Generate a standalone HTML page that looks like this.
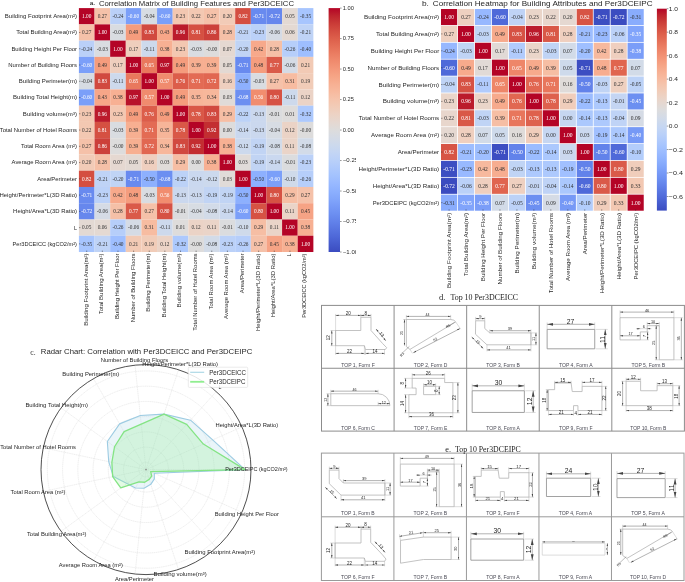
<!DOCTYPE html>
<html><head><meta charset="utf-8"><style>
html,body{margin:0;padding:0;background:#fff;width:685px;height:582px;overflow:hidden}
svg{display:block;will-change:transform;filter:blur(0.3px)}
</style></head><body>
<svg width="685" height="582" viewBox="0 0 685 582" font-family="Liberation Sans, sans-serif">
<rect width="685" height="582" fill="#fff"/>
<rect x="78.90" y="8.10" width="15.65" height="16.28" fill="#b40426"/>
<rect x="94.53" y="8.10" width="15.65" height="16.28" fill="#f5c1a9"/>
<rect x="110.16" y="8.10" width="15.65" height="16.28" fill="#bad0f8"/>
<rect x="125.79" y="8.10" width="15.65" height="16.28" fill="#7b9ff9"/>
<rect x="141.42" y="8.10" width="15.65" height="16.28" fill="#d7dce3"/>
<rect x="157.05" y="8.10" width="15.65" height="16.28" fill="#7b9ff9"/>
<rect x="172.68" y="8.10" width="15.65" height="16.28" fill="#f3c7b1"/>
<rect x="188.31" y="8.10" width="15.65" height="16.28" fill="#f3c8b2"/>
<rect x="203.94" y="8.10" width="15.65" height="16.28" fill="#f5c1a9"/>
<rect x="219.57" y="8.10" width="15.65" height="16.28" fill="#f2cbb7"/>
<rect x="235.20" y="8.10" width="15.65" height="16.28" fill="#d44e41"/>
<rect x="250.83" y="8.10" width="15.65" height="16.28" fill="#688aef"/>
<rect x="266.46" y="8.10" width="15.65" height="16.28" fill="#6687ed"/>
<rect x="282.09" y="8.10" width="15.65" height="16.28" fill="#e3d9d3"/>
<rect x="297.72" y="8.10" width="15.65" height="16.28" fill="#a7c5fe"/>
<rect x="78.90" y="24.36" width="15.65" height="16.28" fill="#f5c1a9"/>
<rect x="94.53" y="24.36" width="15.65" height="16.28" fill="#b40426"/>
<rect x="110.16" y="24.36" width="15.65" height="16.28" fill="#d9dce1"/>
<rect x="125.79" y="24.36" width="15.65" height="16.28" fill="#f59c7d"/>
<rect x="141.42" y="24.36" width="15.65" height="16.28" fill="#d1493f"/>
<rect x="157.05" y="24.36" width="15.65" height="16.28" fill="#f7a688"/>
<rect x="172.68" y="24.36" width="15.65" height="16.28" fill="#bb1b2c"/>
<rect x="188.31" y="24.36" width="15.65" height="16.28" fill="#d55042"/>
<rect x="203.94" y="24.36" width="15.65" height="16.28" fill="#cc403a"/>
<rect x="219.57" y="24.36" width="15.65" height="16.28" fill="#f5c0a7"/>
<rect x="235.20" y="24.36" width="15.65" height="16.28" fill="#bfd3f6"/>
<rect x="250.83" y="24.36" width="15.65" height="16.28" fill="#bbd1f8"/>
<rect x="266.46" y="24.36" width="15.65" height="16.28" fill="#d5dbe5"/>
<rect x="282.09" y="24.36" width="15.65" height="16.28" fill="#e4d9d2"/>
<rect x="297.72" y="24.36" width="15.65" height="16.28" fill="#bfd3f6"/>
<rect x="78.90" y="40.62" width="15.65" height="16.28" fill="#bad0f8"/>
<rect x="94.53" y="40.62" width="15.65" height="16.28" fill="#d9dce1"/>
<rect x="110.16" y="40.62" width="15.65" height="16.28" fill="#b40426"/>
<rect x="125.79" y="40.62" width="15.65" height="16.28" fill="#efcebd"/>
<rect x="141.42" y="40.62" width="15.65" height="16.28" fill="#cdd9ec"/>
<rect x="157.05" y="40.62" width="15.65" height="16.28" fill="#f7b093"/>
<rect x="172.68" y="40.62" width="15.65" height="16.28" fill="#f3c7b1"/>
<rect x="188.31" y="40.62" width="15.65" height="16.28" fill="#d9dce1"/>
<rect x="203.94" y="40.62" width="15.65" height="16.28" fill="#dddcdc"/>
<rect x="219.57" y="40.62" width="15.65" height="16.28" fill="#e5d8d1"/>
<rect x="235.20" y="40.62" width="15.65" height="16.28" fill="#c0d4f5"/>
<rect x="250.83" y="40.62" width="15.65" height="16.28" fill="#f7a98b"/>
<rect x="266.46" y="40.62" width="15.65" height="16.28" fill="#f5c0a7"/>
<rect x="282.09" y="40.62" width="15.65" height="16.28" fill="#b6cefa"/>
<rect x="297.72" y="40.62" width="15.65" height="16.28" fill="#9ebeff"/>
<rect x="78.90" y="56.88" width="15.65" height="16.28" fill="#7b9ff9"/>
<rect x="94.53" y="56.88" width="15.65" height="16.28" fill="#f59c7d"/>
<rect x="110.16" y="56.88" width="15.65" height="16.28" fill="#efcebd"/>
<rect x="125.79" y="56.88" width="15.65" height="16.28" fill="#b40426"/>
<rect x="141.42" y="56.88" width="15.65" height="16.28" fill="#e9785d"/>
<rect x="157.05" y="56.88" width="15.65" height="16.28" fill="#b8122a"/>
<rect x="172.68" y="56.88" width="15.65" height="16.28" fill="#f59c7d"/>
<rect x="188.31" y="56.88" width="15.65" height="16.28" fill="#f7af91"/>
<rect x="203.94" y="56.88" width="15.65" height="16.28" fill="#f7af91"/>
<rect x="219.57" y="56.88" width="15.65" height="16.28" fill="#e3d9d3"/>
<rect x="235.20" y="56.88" width="15.65" height="16.28" fill="#688aef"/>
<rect x="250.83" y="56.88" width="15.65" height="16.28" fill="#f59d7e"/>
<rect x="266.46" y="56.88" width="15.65" height="16.28" fill="#da5a49"/>
<rect x="282.09" y="56.88" width="15.65" height="16.28" fill="#d5dbe5"/>
<rect x="297.72" y="56.88" width="15.65" height="16.28" fill="#f2cab5"/>
<rect x="78.90" y="73.14" width="15.65" height="16.28" fill="#d7dce3"/>
<rect x="94.53" y="73.14" width="15.65" height="16.28" fill="#d1493f"/>
<rect x="110.16" y="73.14" width="15.65" height="16.28" fill="#cdd9ec"/>
<rect x="125.79" y="73.14" width="15.65" height="16.28" fill="#e9785d"/>
<rect x="141.42" y="73.14" width="15.65" height="16.28" fill="#b40426"/>
<rect x="157.05" y="73.14" width="15.65" height="16.28" fill="#f08b6e"/>
<rect x="172.68" y="73.14" width="15.65" height="16.28" fill="#dc5d4a"/>
<rect x="188.31" y="73.14" width="15.65" height="16.28" fill="#e36b54"/>
<rect x="203.94" y="73.14" width="15.65" height="16.28" fill="#e16751"/>
<rect x="219.57" y="73.14" width="15.65" height="16.28" fill="#efcfbf"/>
<rect x="235.20" y="73.14" width="15.65" height="16.28" fill="#8db0fe"/>
<rect x="250.83" y="73.14" width="15.65" height="16.28" fill="#d9dce1"/>
<rect x="266.46" y="73.14" width="15.65" height="16.28" fill="#f5c1a9"/>
<rect x="282.09" y="73.14" width="15.65" height="16.28" fill="#f7bca1"/>
<rect x="297.72" y="73.14" width="15.65" height="16.28" fill="#f1ccb8"/>
<rect x="78.90" y="89.40" width="15.65" height="16.28" fill="#7b9ff9"/>
<rect x="94.53" y="89.40" width="15.65" height="16.28" fill="#f7a688"/>
<rect x="110.16" y="89.40" width="15.65" height="16.28" fill="#f7b093"/>
<rect x="125.79" y="89.40" width="15.65" height="16.28" fill="#b8122a"/>
<rect x="141.42" y="89.40" width="15.65" height="16.28" fill="#f08b6e"/>
<rect x="157.05" y="89.40" width="15.65" height="16.28" fill="#b40426"/>
<rect x="172.68" y="89.40" width="15.65" height="16.28" fill="#f59c7d"/>
<rect x="188.31" y="89.40" width="15.65" height="16.28" fill="#f7b599"/>
<rect x="203.94" y="89.40" width="15.65" height="16.28" fill="#f7b79b"/>
<rect x="219.57" y="89.40" width="15.65" height="16.28" fill="#e0dbd8"/>
<rect x="235.20" y="89.40" width="15.65" height="16.28" fill="#6c8ff1"/>
<rect x="250.83" y="89.40" width="15.65" height="16.28" fill="#f18d6f"/>
<rect x="266.46" y="89.40" width="15.65" height="16.28" fill="#d65244"/>
<rect x="282.09" y="89.40" width="15.65" height="16.28" fill="#cdd9ec"/>
<rect x="297.72" y="89.40" width="15.65" height="16.28" fill="#ebd3c6"/>
<rect x="78.90" y="105.66" width="15.65" height="16.28" fill="#f3c7b1"/>
<rect x="94.53" y="105.66" width="15.65" height="16.28" fill="#bb1b2c"/>
<rect x="110.16" y="105.66" width="15.65" height="16.28" fill="#f3c7b1"/>
<rect x="125.79" y="105.66" width="15.65" height="16.28" fill="#f59c7d"/>
<rect x="141.42" y="105.66" width="15.65" height="16.28" fill="#dc5d4a"/>
<rect x="157.05" y="105.66" width="15.65" height="16.28" fill="#f59c7d"/>
<rect x="172.68" y="105.66" width="15.65" height="16.28" fill="#b40426"/>
<rect x="188.31" y="105.66" width="15.65" height="16.28" fill="#d95847"/>
<rect x="203.94" y="105.66" width="15.65" height="16.28" fill="#d1493f"/>
<rect x="219.57" y="105.66" width="15.65" height="16.28" fill="#f6bea4"/>
<rect x="235.20" y="105.66" width="15.65" height="16.28" fill="#bcd2f7"/>
<rect x="250.83" y="105.66" width="15.65" height="16.28" fill="#cbd8ee"/>
<rect x="266.46" y="105.66" width="15.65" height="16.28" fill="#dbdcde"/>
<rect x="282.09" y="105.66" width="15.65" height="16.28" fill="#dedcdb"/>
<rect x="297.72" y="105.66" width="15.65" height="16.28" fill="#adc9fd"/>
<rect x="78.90" y="121.92" width="15.65" height="16.28" fill="#f3c8b2"/>
<rect x="94.53" y="121.92" width="15.65" height="16.28" fill="#d55042"/>
<rect x="110.16" y="121.92" width="15.65" height="16.28" fill="#d9dce1"/>
<rect x="125.79" y="121.92" width="15.65" height="16.28" fill="#f7af91"/>
<rect x="141.42" y="121.92" width="15.65" height="16.28" fill="#e36b54"/>
<rect x="157.05" y="121.92" width="15.65" height="16.28" fill="#f7b599"/>
<rect x="172.68" y="121.92" width="15.65" height="16.28" fill="#d95847"/>
<rect x="188.31" y="121.92" width="15.65" height="16.28" fill="#b40426"/>
<rect x="203.94" y="121.92" width="15.65" height="16.28" fill="#c32e31"/>
<rect x="219.57" y="121.92" width="15.65" height="16.28" fill="#dddcdc"/>
<rect x="235.20" y="121.92" width="15.65" height="16.28" fill="#cad8ef"/>
<rect x="250.83" y="121.92" width="15.65" height="16.28" fill="#cbd8ee"/>
<rect x="266.46" y="121.92" width="15.65" height="16.28" fill="#d7dce3"/>
<rect x="282.09" y="121.92" width="15.65" height="16.28" fill="#ebd3c6"/>
<rect x="297.72" y="121.92" width="15.65" height="16.28" fill="#dddcdc"/>
<rect x="78.90" y="138.18" width="15.65" height="16.28" fill="#f5c1a9"/>
<rect x="94.53" y="138.18" width="15.65" height="16.28" fill="#cc403a"/>
<rect x="110.16" y="138.18" width="15.65" height="16.28" fill="#dddcdc"/>
<rect x="125.79" y="138.18" width="15.65" height="16.28" fill="#f7af91"/>
<rect x="141.42" y="138.18" width="15.65" height="16.28" fill="#e16751"/>
<rect x="157.05" y="138.18" width="15.65" height="16.28" fill="#f7b79b"/>
<rect x="172.68" y="138.18" width="15.65" height="16.28" fill="#d1493f"/>
<rect x="188.31" y="138.18" width="15.65" height="16.28" fill="#c32e31"/>
<rect x="203.94" y="138.18" width="15.65" height="16.28" fill="#b40426"/>
<rect x="219.57" y="138.18" width="15.65" height="16.28" fill="#f7b093"/>
<rect x="235.20" y="138.18" width="15.65" height="16.28" fill="#ccd9ed"/>
<rect x="250.83" y="138.18" width="15.65" height="16.28" fill="#c1d4f4"/>
<rect x="266.46" y="138.18" width="15.65" height="16.28" fill="#d2dbe8"/>
<rect x="282.09" y="138.18" width="15.65" height="16.28" fill="#ead4c8"/>
<rect x="297.72" y="138.18" width="15.65" height="16.28" fill="#d2dbe8"/>
<rect x="78.90" y="154.44" width="15.65" height="16.28" fill="#f2cbb7"/>
<rect x="94.53" y="154.44" width="15.65" height="16.28" fill="#f5c0a7"/>
<rect x="110.16" y="154.44" width="15.65" height="16.28" fill="#e5d8d1"/>
<rect x="125.79" y="154.44" width="15.65" height="16.28" fill="#e3d9d3"/>
<rect x="141.42" y="154.44" width="15.65" height="16.28" fill="#efcfbf"/>
<rect x="157.05" y="154.44" width="15.65" height="16.28" fill="#e0dbd8"/>
<rect x="172.68" y="154.44" width="15.65" height="16.28" fill="#f6bea4"/>
<rect x="188.31" y="154.44" width="15.65" height="16.28" fill="#dddcdc"/>
<rect x="203.94" y="154.44" width="15.65" height="16.28" fill="#f7b093"/>
<rect x="219.57" y="154.44" width="15.65" height="16.28" fill="#b40426"/>
<rect x="235.20" y="154.44" width="15.65" height="16.28" fill="#e0dbd8"/>
<rect x="250.83" y="154.44" width="15.65" height="16.28" fill="#c1d4f4"/>
<rect x="266.46" y="154.44" width="15.65" height="16.28" fill="#cad8ef"/>
<rect x="282.09" y="154.44" width="15.65" height="16.28" fill="#dbdcde"/>
<rect x="297.72" y="154.44" width="15.65" height="16.28" fill="#bbd1f8"/>
<rect x="78.90" y="170.70" width="15.65" height="16.28" fill="#d44e41"/>
<rect x="94.53" y="170.70" width="15.65" height="16.28" fill="#bfd3f6"/>
<rect x="110.16" y="170.70" width="15.65" height="16.28" fill="#c0d4f5"/>
<rect x="125.79" y="170.70" width="15.65" height="16.28" fill="#688aef"/>
<rect x="141.42" y="170.70" width="15.65" height="16.28" fill="#8db0fe"/>
<rect x="157.05" y="170.70" width="15.65" height="16.28" fill="#6c8ff1"/>
<rect x="172.68" y="170.70" width="15.65" height="16.28" fill="#bcd2f7"/>
<rect x="188.31" y="170.70" width="15.65" height="16.28" fill="#cad8ef"/>
<rect x="203.94" y="170.70" width="15.65" height="16.28" fill="#ccd9ed"/>
<rect x="219.57" y="170.70" width="15.65" height="16.28" fill="#e0dbd8"/>
<rect x="235.20" y="170.70" width="15.65" height="16.28" fill="#b40426"/>
<rect x="250.83" y="170.70" width="15.65" height="16.28" fill="#8db0fe"/>
<rect x="266.46" y="170.70" width="15.65" height="16.28" fill="#7b9ff9"/>
<rect x="282.09" y="170.70" width="15.65" height="16.28" fill="#cfdaea"/>
<rect x="297.72" y="170.70" width="15.65" height="16.28" fill="#b6cefa"/>
<rect x="78.90" y="186.96" width="15.65" height="16.28" fill="#688aef"/>
<rect x="94.53" y="186.96" width="15.65" height="16.28" fill="#bbd1f8"/>
<rect x="110.16" y="186.96" width="15.65" height="16.28" fill="#f7a98b"/>
<rect x="125.79" y="186.96" width="15.65" height="16.28" fill="#f59d7e"/>
<rect x="141.42" y="186.96" width="15.65" height="16.28" fill="#d9dce1"/>
<rect x="157.05" y="186.96" width="15.65" height="16.28" fill="#f18d6f"/>
<rect x="172.68" y="186.96" width="15.65" height="16.28" fill="#cbd8ee"/>
<rect x="188.31" y="186.96" width="15.65" height="16.28" fill="#cbd8ee"/>
<rect x="203.94" y="186.96" width="15.65" height="16.28" fill="#c1d4f4"/>
<rect x="219.57" y="186.96" width="15.65" height="16.28" fill="#c1d4f4"/>
<rect x="235.20" y="186.96" width="15.65" height="16.28" fill="#8db0fe"/>
<rect x="250.83" y="186.96" width="15.65" height="16.28" fill="#b40426"/>
<rect x="266.46" y="186.96" width="15.65" height="16.28" fill="#d65244"/>
<rect x="282.09" y="186.96" width="15.65" height="16.28" fill="#f6bea4"/>
<rect x="297.72" y="186.96" width="15.65" height="16.28" fill="#f5c1a9"/>
<rect x="78.90" y="203.22" width="15.65" height="16.28" fill="#6687ed"/>
<rect x="94.53" y="203.22" width="15.65" height="16.28" fill="#d5dbe5"/>
<rect x="110.16" y="203.22" width="15.65" height="16.28" fill="#f5c0a7"/>
<rect x="125.79" y="203.22" width="15.65" height="16.28" fill="#da5a49"/>
<rect x="141.42" y="203.22" width="15.65" height="16.28" fill="#f5c1a9"/>
<rect x="157.05" y="203.22" width="15.65" height="16.28" fill="#d65244"/>
<rect x="172.68" y="203.22" width="15.65" height="16.28" fill="#dbdcde"/>
<rect x="188.31" y="203.22" width="15.65" height="16.28" fill="#d7dce3"/>
<rect x="203.94" y="203.22" width="15.65" height="16.28" fill="#d2dbe8"/>
<rect x="219.57" y="203.22" width="15.65" height="16.28" fill="#cad8ef"/>
<rect x="235.20" y="203.22" width="15.65" height="16.28" fill="#7b9ff9"/>
<rect x="250.83" y="203.22" width="15.65" height="16.28" fill="#d65244"/>
<rect x="266.46" y="203.22" width="15.65" height="16.28" fill="#b40426"/>
<rect x="282.09" y="203.22" width="15.65" height="16.28" fill="#ead4c8"/>
<rect x="297.72" y="203.22" width="15.65" height="16.28" fill="#f6a385"/>
<rect x="78.90" y="219.48" width="15.65" height="16.28" fill="#e3d9d3"/>
<rect x="94.53" y="219.48" width="15.65" height="16.28" fill="#e4d9d2"/>
<rect x="110.16" y="219.48" width="15.65" height="16.28" fill="#b6cefa"/>
<rect x="125.79" y="219.48" width="15.65" height="16.28" fill="#d5dbe5"/>
<rect x="141.42" y="219.48" width="15.65" height="16.28" fill="#f7bca1"/>
<rect x="157.05" y="219.48" width="15.65" height="16.28" fill="#cdd9ec"/>
<rect x="172.68" y="219.48" width="15.65" height="16.28" fill="#dedcdb"/>
<rect x="188.31" y="219.48" width="15.65" height="16.28" fill="#ebd3c6"/>
<rect x="203.94" y="219.48" width="15.65" height="16.28" fill="#ead4c8"/>
<rect x="219.57" y="219.48" width="15.65" height="16.28" fill="#dbdcde"/>
<rect x="235.20" y="219.48" width="15.65" height="16.28" fill="#cfdaea"/>
<rect x="250.83" y="219.48" width="15.65" height="16.28" fill="#f6bea4"/>
<rect x="266.46" y="219.48" width="15.65" height="16.28" fill="#ead4c8"/>
<rect x="282.09" y="219.48" width="15.65" height="16.28" fill="#b40426"/>
<rect x="297.72" y="219.48" width="15.65" height="16.28" fill="#f7b093"/>
<rect x="78.90" y="235.74" width="15.65" height="16.28" fill="#a7c5fe"/>
<rect x="94.53" y="235.74" width="15.65" height="16.28" fill="#bfd3f6"/>
<rect x="110.16" y="235.74" width="15.65" height="16.28" fill="#9ebeff"/>
<rect x="125.79" y="235.74" width="15.65" height="16.28" fill="#f2cab5"/>
<rect x="141.42" y="235.74" width="15.65" height="16.28" fill="#f1ccb8"/>
<rect x="157.05" y="235.74" width="15.65" height="16.28" fill="#ebd3c6"/>
<rect x="172.68" y="235.74" width="15.65" height="16.28" fill="#adc9fd"/>
<rect x="188.31" y="235.74" width="15.65" height="16.28" fill="#dddcdc"/>
<rect x="203.94" y="235.74" width="15.65" height="16.28" fill="#d2dbe8"/>
<rect x="219.57" y="235.74" width="15.65" height="16.28" fill="#bbd1f8"/>
<rect x="235.20" y="235.74" width="15.65" height="16.28" fill="#b6cefa"/>
<rect x="250.83" y="235.74" width="15.65" height="16.28" fill="#f5c1a9"/>
<rect x="266.46" y="235.74" width="15.65" height="16.28" fill="#f6a385"/>
<rect x="282.09" y="235.74" width="15.65" height="16.28" fill="#f7b093"/>
<rect x="297.72" y="235.74" width="15.65" height="16.28" fill="#b40426"/>
<text x="86.72" y="18.03" font-size="5.30" text-anchor="middle" fill="#ffffff" font-family="Liberation Serif">1.00</text>
<text x="102.34" y="18.03" font-size="5.30" text-anchor="middle" fill="#303030" font-family="Liberation Serif">0.27</text>
<text x="117.98" y="18.03" font-size="5.30" text-anchor="middle" fill="#303030" font-family="Liberation Serif">-0.24</text>
<text x="133.61" y="18.03" font-size="5.30" text-anchor="middle" fill="#ffffff" font-family="Liberation Serif">-0.60</text>
<text x="149.24" y="18.03" font-size="5.30" text-anchor="middle" fill="#303030" font-family="Liberation Serif">-0.04</text>
<text x="164.87" y="18.03" font-size="5.30" text-anchor="middle" fill="#ffffff" font-family="Liberation Serif">-0.60</text>
<text x="180.50" y="18.03" font-size="5.30" text-anchor="middle" fill="#303030" font-family="Liberation Serif">0.23</text>
<text x="196.12" y="18.03" font-size="5.30" text-anchor="middle" fill="#303030" font-family="Liberation Serif">0.22</text>
<text x="211.75" y="18.03" font-size="5.30" text-anchor="middle" fill="#303030" font-family="Liberation Serif">0.27</text>
<text x="227.39" y="18.03" font-size="5.30" text-anchor="middle" fill="#303030" font-family="Liberation Serif">0.20</text>
<text x="243.02" y="18.03" font-size="5.30" text-anchor="middle" fill="#ffffff" font-family="Liberation Serif">0.82</text>
<text x="258.65" y="18.03" font-size="5.30" text-anchor="middle" fill="#ffffff" font-family="Liberation Serif">-0.71</text>
<text x="274.28" y="18.03" font-size="5.30" text-anchor="middle" fill="#ffffff" font-family="Liberation Serif">-0.72</text>
<text x="289.91" y="18.03" font-size="5.30" text-anchor="middle" fill="#303030" font-family="Liberation Serif">0.05</text>
<text x="305.54" y="18.03" font-size="5.30" text-anchor="middle" fill="#303030" font-family="Liberation Serif">-0.35</text>
<text x="86.72" y="34.29" font-size="5.30" text-anchor="middle" fill="#303030" font-family="Liberation Serif">0.27</text>
<text x="102.34" y="34.29" font-size="5.30" text-anchor="middle" fill="#ffffff" font-family="Liberation Serif">1.00</text>
<text x="117.98" y="34.29" font-size="5.30" text-anchor="middle" fill="#303030" font-family="Liberation Serif">-0.03</text>
<text x="133.61" y="34.29" font-size="5.30" text-anchor="middle" fill="#303030" font-family="Liberation Serif">0.49</text>
<text x="149.24" y="34.29" font-size="5.30" text-anchor="middle" fill="#ffffff" font-family="Liberation Serif">0.83</text>
<text x="164.87" y="34.29" font-size="5.30" text-anchor="middle" fill="#303030" font-family="Liberation Serif">0.43</text>
<text x="180.50" y="34.29" font-size="5.30" text-anchor="middle" fill="#ffffff" font-family="Liberation Serif">0.96</text>
<text x="196.12" y="34.29" font-size="5.30" text-anchor="middle" fill="#ffffff" font-family="Liberation Serif">0.81</text>
<text x="211.75" y="34.29" font-size="5.30" text-anchor="middle" fill="#ffffff" font-family="Liberation Serif">0.86</text>
<text x="227.39" y="34.29" font-size="5.30" text-anchor="middle" fill="#303030" font-family="Liberation Serif">0.28</text>
<text x="243.02" y="34.29" font-size="5.30" text-anchor="middle" fill="#303030" font-family="Liberation Serif">-0.21</text>
<text x="258.65" y="34.29" font-size="5.30" text-anchor="middle" fill="#303030" font-family="Liberation Serif">-0.23</text>
<text x="274.28" y="34.29" font-size="5.30" text-anchor="middle" fill="#303030" font-family="Liberation Serif">-0.06</text>
<text x="289.91" y="34.29" font-size="5.30" text-anchor="middle" fill="#303030" font-family="Liberation Serif">0.06</text>
<text x="305.54" y="34.29" font-size="5.30" text-anchor="middle" fill="#303030" font-family="Liberation Serif">-0.21</text>
<text x="86.72" y="50.55" font-size="5.30" text-anchor="middle" fill="#303030" font-family="Liberation Serif">-0.24</text>
<text x="102.34" y="50.55" font-size="5.30" text-anchor="middle" fill="#303030" font-family="Liberation Serif">-0.03</text>
<text x="117.98" y="50.55" font-size="5.30" text-anchor="middle" fill="#ffffff" font-family="Liberation Serif">1.00</text>
<text x="133.61" y="50.55" font-size="5.30" text-anchor="middle" fill="#303030" font-family="Liberation Serif">0.17</text>
<text x="149.24" y="50.55" font-size="5.30" text-anchor="middle" fill="#303030" font-family="Liberation Serif">-0.11</text>
<text x="164.87" y="50.55" font-size="5.30" text-anchor="middle" fill="#303030" font-family="Liberation Serif">0.38</text>
<text x="180.50" y="50.55" font-size="5.30" text-anchor="middle" fill="#303030" font-family="Liberation Serif">0.23</text>
<text x="196.12" y="50.55" font-size="5.30" text-anchor="middle" fill="#303030" font-family="Liberation Serif">-0.03</text>
<text x="211.75" y="50.55" font-size="5.30" text-anchor="middle" fill="#303030" font-family="Liberation Serif">-0.00</text>
<text x="227.39" y="50.55" font-size="5.30" text-anchor="middle" fill="#303030" font-family="Liberation Serif">0.07</text>
<text x="243.02" y="50.55" font-size="5.30" text-anchor="middle" fill="#303030" font-family="Liberation Serif">-0.20</text>
<text x="258.65" y="50.55" font-size="5.30" text-anchor="middle" fill="#303030" font-family="Liberation Serif">0.42</text>
<text x="274.28" y="50.55" font-size="5.30" text-anchor="middle" fill="#303030" font-family="Liberation Serif">0.28</text>
<text x="289.91" y="50.55" font-size="5.30" text-anchor="middle" fill="#303030" font-family="Liberation Serif">-0.26</text>
<text x="305.54" y="50.55" font-size="5.30" text-anchor="middle" fill="#303030" font-family="Liberation Serif">-0.40</text>
<text x="86.72" y="66.81" font-size="5.30" text-anchor="middle" fill="#ffffff" font-family="Liberation Serif">-0.60</text>
<text x="102.34" y="66.81" font-size="5.30" text-anchor="middle" fill="#303030" font-family="Liberation Serif">0.49</text>
<text x="117.98" y="66.81" font-size="5.30" text-anchor="middle" fill="#303030" font-family="Liberation Serif">0.17</text>
<text x="133.61" y="66.81" font-size="5.30" text-anchor="middle" fill="#ffffff" font-family="Liberation Serif">1.00</text>
<text x="149.24" y="66.81" font-size="5.30" text-anchor="middle" fill="#ffffff" font-family="Liberation Serif">0.65</text>
<text x="164.87" y="66.81" font-size="5.30" text-anchor="middle" fill="#ffffff" font-family="Liberation Serif">0.97</text>
<text x="180.50" y="66.81" font-size="5.30" text-anchor="middle" fill="#303030" font-family="Liberation Serif">0.49</text>
<text x="196.12" y="66.81" font-size="5.30" text-anchor="middle" fill="#303030" font-family="Liberation Serif">0.39</text>
<text x="211.75" y="66.81" font-size="5.30" text-anchor="middle" fill="#303030" font-family="Liberation Serif">0.39</text>
<text x="227.39" y="66.81" font-size="5.30" text-anchor="middle" fill="#303030" font-family="Liberation Serif">0.05</text>
<text x="243.02" y="66.81" font-size="5.30" text-anchor="middle" fill="#ffffff" font-family="Liberation Serif">-0.71</text>
<text x="258.65" y="66.81" font-size="5.30" text-anchor="middle" fill="#303030" font-family="Liberation Serif">0.48</text>
<text x="274.28" y="66.81" font-size="5.30" text-anchor="middle" fill="#ffffff" font-family="Liberation Serif">0.77</text>
<text x="289.91" y="66.81" font-size="5.30" text-anchor="middle" fill="#303030" font-family="Liberation Serif">-0.06</text>
<text x="305.54" y="66.81" font-size="5.30" text-anchor="middle" fill="#303030" font-family="Liberation Serif">0.21</text>
<text x="86.72" y="83.07" font-size="5.30" text-anchor="middle" fill="#303030" font-family="Liberation Serif">-0.04</text>
<text x="102.34" y="83.07" font-size="5.30" text-anchor="middle" fill="#ffffff" font-family="Liberation Serif">0.83</text>
<text x="117.98" y="83.07" font-size="5.30" text-anchor="middle" fill="#303030" font-family="Liberation Serif">-0.11</text>
<text x="133.61" y="83.07" font-size="5.30" text-anchor="middle" fill="#ffffff" font-family="Liberation Serif">0.65</text>
<text x="149.24" y="83.07" font-size="5.30" text-anchor="middle" fill="#ffffff" font-family="Liberation Serif">1.00</text>
<text x="164.87" y="83.07" font-size="5.30" text-anchor="middle" fill="#ffffff" font-family="Liberation Serif">0.57</text>
<text x="180.50" y="83.07" font-size="5.30" text-anchor="middle" fill="#ffffff" font-family="Liberation Serif">0.76</text>
<text x="196.12" y="83.07" font-size="5.30" text-anchor="middle" fill="#ffffff" font-family="Liberation Serif">0.71</text>
<text x="211.75" y="83.07" font-size="5.30" text-anchor="middle" fill="#ffffff" font-family="Liberation Serif">0.72</text>
<text x="227.39" y="83.07" font-size="5.30" text-anchor="middle" fill="#303030" font-family="Liberation Serif">0.16</text>
<text x="243.02" y="83.07" font-size="5.30" text-anchor="middle" fill="#303030" font-family="Liberation Serif">-0.50</text>
<text x="258.65" y="83.07" font-size="5.30" text-anchor="middle" fill="#303030" font-family="Liberation Serif">-0.03</text>
<text x="274.28" y="83.07" font-size="5.30" text-anchor="middle" fill="#303030" font-family="Liberation Serif">0.27</text>
<text x="289.91" y="83.07" font-size="5.30" text-anchor="middle" fill="#303030" font-family="Liberation Serif">0.31</text>
<text x="305.54" y="83.07" font-size="5.30" text-anchor="middle" fill="#303030" font-family="Liberation Serif">0.19</text>
<text x="86.72" y="99.33" font-size="5.30" text-anchor="middle" fill="#ffffff" font-family="Liberation Serif">-0.60</text>
<text x="102.34" y="99.33" font-size="5.30" text-anchor="middle" fill="#303030" font-family="Liberation Serif">0.43</text>
<text x="117.98" y="99.33" font-size="5.30" text-anchor="middle" fill="#303030" font-family="Liberation Serif">0.38</text>
<text x="133.61" y="99.33" font-size="5.30" text-anchor="middle" fill="#ffffff" font-family="Liberation Serif">0.97</text>
<text x="149.24" y="99.33" font-size="5.30" text-anchor="middle" fill="#ffffff" font-family="Liberation Serif">0.57</text>
<text x="164.87" y="99.33" font-size="5.30" text-anchor="middle" fill="#ffffff" font-family="Liberation Serif">1.00</text>
<text x="180.50" y="99.33" font-size="5.30" text-anchor="middle" fill="#303030" font-family="Liberation Serif">0.49</text>
<text x="196.12" y="99.33" font-size="5.30" text-anchor="middle" fill="#303030" font-family="Liberation Serif">0.35</text>
<text x="211.75" y="99.33" font-size="5.30" text-anchor="middle" fill="#303030" font-family="Liberation Serif">0.34</text>
<text x="227.39" y="99.33" font-size="5.30" text-anchor="middle" fill="#303030" font-family="Liberation Serif">0.03</text>
<text x="243.02" y="99.33" font-size="5.30" text-anchor="middle" fill="#ffffff" font-family="Liberation Serif">-0.68</text>
<text x="258.65" y="99.33" font-size="5.30" text-anchor="middle" fill="#ffffff" font-family="Liberation Serif">0.56</text>
<text x="274.28" y="99.33" font-size="5.30" text-anchor="middle" fill="#ffffff" font-family="Liberation Serif">0.80</text>
<text x="289.91" y="99.33" font-size="5.30" text-anchor="middle" fill="#303030" font-family="Liberation Serif">-0.11</text>
<text x="305.54" y="99.33" font-size="5.30" text-anchor="middle" fill="#303030" font-family="Liberation Serif">0.12</text>
<text x="86.72" y="115.59" font-size="5.30" text-anchor="middle" fill="#303030" font-family="Liberation Serif">0.23</text>
<text x="102.34" y="115.59" font-size="5.30" text-anchor="middle" fill="#ffffff" font-family="Liberation Serif">0.96</text>
<text x="117.98" y="115.59" font-size="5.30" text-anchor="middle" fill="#303030" font-family="Liberation Serif">0.23</text>
<text x="133.61" y="115.59" font-size="5.30" text-anchor="middle" fill="#303030" font-family="Liberation Serif">0.49</text>
<text x="149.24" y="115.59" font-size="5.30" text-anchor="middle" fill="#ffffff" font-family="Liberation Serif">0.76</text>
<text x="164.87" y="115.59" font-size="5.30" text-anchor="middle" fill="#303030" font-family="Liberation Serif">0.49</text>
<text x="180.50" y="115.59" font-size="5.30" text-anchor="middle" fill="#ffffff" font-family="Liberation Serif">1.00</text>
<text x="196.12" y="115.59" font-size="5.30" text-anchor="middle" fill="#ffffff" font-family="Liberation Serif">0.78</text>
<text x="211.75" y="115.59" font-size="5.30" text-anchor="middle" fill="#ffffff" font-family="Liberation Serif">0.83</text>
<text x="227.39" y="115.59" font-size="5.30" text-anchor="middle" fill="#303030" font-family="Liberation Serif">0.29</text>
<text x="243.02" y="115.59" font-size="5.30" text-anchor="middle" fill="#303030" font-family="Liberation Serif">-0.22</text>
<text x="258.65" y="115.59" font-size="5.30" text-anchor="middle" fill="#303030" font-family="Liberation Serif">-0.13</text>
<text x="274.28" y="115.59" font-size="5.30" text-anchor="middle" fill="#303030" font-family="Liberation Serif">-0.01</text>
<text x="289.91" y="115.59" font-size="5.30" text-anchor="middle" fill="#303030" font-family="Liberation Serif">0.01</text>
<text x="305.54" y="115.59" font-size="5.30" text-anchor="middle" fill="#303030" font-family="Liberation Serif">-0.32</text>
<text x="86.72" y="131.85" font-size="5.30" text-anchor="middle" fill="#303030" font-family="Liberation Serif">0.22</text>
<text x="102.34" y="131.85" font-size="5.30" text-anchor="middle" fill="#ffffff" font-family="Liberation Serif">0.81</text>
<text x="117.98" y="131.85" font-size="5.30" text-anchor="middle" fill="#303030" font-family="Liberation Serif">-0.03</text>
<text x="133.61" y="131.85" font-size="5.30" text-anchor="middle" fill="#303030" font-family="Liberation Serif">0.39</text>
<text x="149.24" y="131.85" font-size="5.30" text-anchor="middle" fill="#ffffff" font-family="Liberation Serif">0.71</text>
<text x="164.87" y="131.85" font-size="5.30" text-anchor="middle" fill="#303030" font-family="Liberation Serif">0.35</text>
<text x="180.50" y="131.85" font-size="5.30" text-anchor="middle" fill="#ffffff" font-family="Liberation Serif">0.78</text>
<text x="196.12" y="131.85" font-size="5.30" text-anchor="middle" fill="#ffffff" font-family="Liberation Serif">1.00</text>
<text x="211.75" y="131.85" font-size="5.30" text-anchor="middle" fill="#ffffff" font-family="Liberation Serif">0.92</text>
<text x="227.39" y="131.85" font-size="5.30" text-anchor="middle" fill="#303030" font-family="Liberation Serif">0.00</text>
<text x="243.02" y="131.85" font-size="5.30" text-anchor="middle" fill="#303030" font-family="Liberation Serif">-0.14</text>
<text x="258.65" y="131.85" font-size="5.30" text-anchor="middle" fill="#303030" font-family="Liberation Serif">-0.13</text>
<text x="274.28" y="131.85" font-size="5.30" text-anchor="middle" fill="#303030" font-family="Liberation Serif">-0.04</text>
<text x="289.91" y="131.85" font-size="5.30" text-anchor="middle" fill="#303030" font-family="Liberation Serif">0.12</text>
<text x="305.54" y="131.85" font-size="5.30" text-anchor="middle" fill="#303030" font-family="Liberation Serif">-0.00</text>
<text x="86.72" y="148.11" font-size="5.30" text-anchor="middle" fill="#303030" font-family="Liberation Serif">0.27</text>
<text x="102.34" y="148.11" font-size="5.30" text-anchor="middle" fill="#ffffff" font-family="Liberation Serif">0.86</text>
<text x="117.98" y="148.11" font-size="5.30" text-anchor="middle" fill="#303030" font-family="Liberation Serif">-0.00</text>
<text x="133.61" y="148.11" font-size="5.30" text-anchor="middle" fill="#303030" font-family="Liberation Serif">0.39</text>
<text x="149.24" y="148.11" font-size="5.30" text-anchor="middle" fill="#ffffff" font-family="Liberation Serif">0.72</text>
<text x="164.87" y="148.11" font-size="5.30" text-anchor="middle" fill="#303030" font-family="Liberation Serif">0.34</text>
<text x="180.50" y="148.11" font-size="5.30" text-anchor="middle" fill="#ffffff" font-family="Liberation Serif">0.83</text>
<text x="196.12" y="148.11" font-size="5.30" text-anchor="middle" fill="#ffffff" font-family="Liberation Serif">0.92</text>
<text x="211.75" y="148.11" font-size="5.30" text-anchor="middle" fill="#ffffff" font-family="Liberation Serif">1.00</text>
<text x="227.39" y="148.11" font-size="5.30" text-anchor="middle" fill="#303030" font-family="Liberation Serif">0.38</text>
<text x="243.02" y="148.11" font-size="5.30" text-anchor="middle" fill="#303030" font-family="Liberation Serif">-0.12</text>
<text x="258.65" y="148.11" font-size="5.30" text-anchor="middle" fill="#303030" font-family="Liberation Serif">-0.19</text>
<text x="274.28" y="148.11" font-size="5.30" text-anchor="middle" fill="#303030" font-family="Liberation Serif">-0.08</text>
<text x="289.91" y="148.11" font-size="5.30" text-anchor="middle" fill="#303030" font-family="Liberation Serif">0.11</text>
<text x="305.54" y="148.11" font-size="5.30" text-anchor="middle" fill="#303030" font-family="Liberation Serif">-0.08</text>
<text x="86.72" y="164.37" font-size="5.30" text-anchor="middle" fill="#303030" font-family="Liberation Serif">0.20</text>
<text x="102.34" y="164.37" font-size="5.30" text-anchor="middle" fill="#303030" font-family="Liberation Serif">0.28</text>
<text x="117.98" y="164.37" font-size="5.30" text-anchor="middle" fill="#303030" font-family="Liberation Serif">0.07</text>
<text x="133.61" y="164.37" font-size="5.30" text-anchor="middle" fill="#303030" font-family="Liberation Serif">0.05</text>
<text x="149.24" y="164.37" font-size="5.30" text-anchor="middle" fill="#303030" font-family="Liberation Serif">0.16</text>
<text x="164.87" y="164.37" font-size="5.30" text-anchor="middle" fill="#303030" font-family="Liberation Serif">0.03</text>
<text x="180.50" y="164.37" font-size="5.30" text-anchor="middle" fill="#303030" font-family="Liberation Serif">0.29</text>
<text x="196.12" y="164.37" font-size="5.30" text-anchor="middle" fill="#303030" font-family="Liberation Serif">0.00</text>
<text x="211.75" y="164.37" font-size="5.30" text-anchor="middle" fill="#303030" font-family="Liberation Serif">0.38</text>
<text x="227.39" y="164.37" font-size="5.30" text-anchor="middle" fill="#ffffff" font-family="Liberation Serif">1.00</text>
<text x="243.02" y="164.37" font-size="5.30" text-anchor="middle" fill="#303030" font-family="Liberation Serif">0.03</text>
<text x="258.65" y="164.37" font-size="5.30" text-anchor="middle" fill="#303030" font-family="Liberation Serif">-0.19</text>
<text x="274.28" y="164.37" font-size="5.30" text-anchor="middle" fill="#303030" font-family="Liberation Serif">-0.14</text>
<text x="289.91" y="164.37" font-size="5.30" text-anchor="middle" fill="#303030" font-family="Liberation Serif">-0.01</text>
<text x="305.54" y="164.37" font-size="5.30" text-anchor="middle" fill="#303030" font-family="Liberation Serif">-0.23</text>
<text x="86.72" y="180.63" font-size="5.30" text-anchor="middle" fill="#ffffff" font-family="Liberation Serif">0.82</text>
<text x="102.34" y="180.63" font-size="5.30" text-anchor="middle" fill="#303030" font-family="Liberation Serif">-0.21</text>
<text x="117.98" y="180.63" font-size="5.30" text-anchor="middle" fill="#303030" font-family="Liberation Serif">-0.20</text>
<text x="133.61" y="180.63" font-size="5.30" text-anchor="middle" fill="#ffffff" font-family="Liberation Serif">-0.71</text>
<text x="149.24" y="180.63" font-size="5.30" text-anchor="middle" fill="#303030" font-family="Liberation Serif">-0.50</text>
<text x="164.87" y="180.63" font-size="5.30" text-anchor="middle" fill="#ffffff" font-family="Liberation Serif">-0.68</text>
<text x="180.50" y="180.63" font-size="5.30" text-anchor="middle" fill="#303030" font-family="Liberation Serif">-0.22</text>
<text x="196.12" y="180.63" font-size="5.30" text-anchor="middle" fill="#303030" font-family="Liberation Serif">-0.14</text>
<text x="211.75" y="180.63" font-size="5.30" text-anchor="middle" fill="#303030" font-family="Liberation Serif">-0.12</text>
<text x="227.39" y="180.63" font-size="5.30" text-anchor="middle" fill="#303030" font-family="Liberation Serif">0.03</text>
<text x="243.02" y="180.63" font-size="5.30" text-anchor="middle" fill="#ffffff" font-family="Liberation Serif">1.00</text>
<text x="258.65" y="180.63" font-size="5.30" text-anchor="middle" fill="#303030" font-family="Liberation Serif">-0.50</text>
<text x="274.28" y="180.63" font-size="5.30" text-anchor="middle" fill="#ffffff" font-family="Liberation Serif">-0.60</text>
<text x="289.91" y="180.63" font-size="5.30" text-anchor="middle" fill="#303030" font-family="Liberation Serif">-0.10</text>
<text x="305.54" y="180.63" font-size="5.30" text-anchor="middle" fill="#303030" font-family="Liberation Serif">-0.26</text>
<text x="86.72" y="196.89" font-size="5.30" text-anchor="middle" fill="#ffffff" font-family="Liberation Serif">-0.71</text>
<text x="102.34" y="196.89" font-size="5.30" text-anchor="middle" fill="#303030" font-family="Liberation Serif">-0.23</text>
<text x="117.98" y="196.89" font-size="5.30" text-anchor="middle" fill="#303030" font-family="Liberation Serif">0.42</text>
<text x="133.61" y="196.89" font-size="5.30" text-anchor="middle" fill="#303030" font-family="Liberation Serif">0.48</text>
<text x="149.24" y="196.89" font-size="5.30" text-anchor="middle" fill="#303030" font-family="Liberation Serif">-0.03</text>
<text x="164.87" y="196.89" font-size="5.30" text-anchor="middle" fill="#ffffff" font-family="Liberation Serif">0.56</text>
<text x="180.50" y="196.89" font-size="5.30" text-anchor="middle" fill="#303030" font-family="Liberation Serif">-0.13</text>
<text x="196.12" y="196.89" font-size="5.30" text-anchor="middle" fill="#303030" font-family="Liberation Serif">-0.13</text>
<text x="211.75" y="196.89" font-size="5.30" text-anchor="middle" fill="#303030" font-family="Liberation Serif">-0.19</text>
<text x="227.39" y="196.89" font-size="5.30" text-anchor="middle" fill="#303030" font-family="Liberation Serif">-0.19</text>
<text x="243.02" y="196.89" font-size="5.30" text-anchor="middle" fill="#303030" font-family="Liberation Serif">-0.50</text>
<text x="258.65" y="196.89" font-size="5.30" text-anchor="middle" fill="#ffffff" font-family="Liberation Serif">1.00</text>
<text x="274.28" y="196.89" font-size="5.30" text-anchor="middle" fill="#ffffff" font-family="Liberation Serif">0.80</text>
<text x="289.91" y="196.89" font-size="5.30" text-anchor="middle" fill="#303030" font-family="Liberation Serif">0.29</text>
<text x="305.54" y="196.89" font-size="5.30" text-anchor="middle" fill="#303030" font-family="Liberation Serif">0.27</text>
<text x="86.72" y="213.15" font-size="5.30" text-anchor="middle" fill="#ffffff" font-family="Liberation Serif">-0.72</text>
<text x="102.34" y="213.15" font-size="5.30" text-anchor="middle" fill="#303030" font-family="Liberation Serif">-0.06</text>
<text x="117.98" y="213.15" font-size="5.30" text-anchor="middle" fill="#303030" font-family="Liberation Serif">0.28</text>
<text x="133.61" y="213.15" font-size="5.30" text-anchor="middle" fill="#ffffff" font-family="Liberation Serif">0.77</text>
<text x="149.24" y="213.15" font-size="5.30" text-anchor="middle" fill="#303030" font-family="Liberation Serif">0.27</text>
<text x="164.87" y="213.15" font-size="5.30" text-anchor="middle" fill="#ffffff" font-family="Liberation Serif">0.80</text>
<text x="180.50" y="213.15" font-size="5.30" text-anchor="middle" fill="#303030" font-family="Liberation Serif">-0.01</text>
<text x="196.12" y="213.15" font-size="5.30" text-anchor="middle" fill="#303030" font-family="Liberation Serif">-0.04</text>
<text x="211.75" y="213.15" font-size="5.30" text-anchor="middle" fill="#303030" font-family="Liberation Serif">-0.08</text>
<text x="227.39" y="213.15" font-size="5.30" text-anchor="middle" fill="#303030" font-family="Liberation Serif">-0.14</text>
<text x="243.02" y="213.15" font-size="5.30" text-anchor="middle" fill="#ffffff" font-family="Liberation Serif">-0.60</text>
<text x="258.65" y="213.15" font-size="5.30" text-anchor="middle" fill="#ffffff" font-family="Liberation Serif">0.80</text>
<text x="274.28" y="213.15" font-size="5.30" text-anchor="middle" fill="#ffffff" font-family="Liberation Serif">1.00</text>
<text x="289.91" y="213.15" font-size="5.30" text-anchor="middle" fill="#303030" font-family="Liberation Serif">0.11</text>
<text x="305.54" y="213.15" font-size="5.30" text-anchor="middle" fill="#303030" font-family="Liberation Serif">0.45</text>
<text x="86.72" y="229.41" font-size="5.30" text-anchor="middle" fill="#303030" font-family="Liberation Serif">0.05</text>
<text x="102.34" y="229.41" font-size="5.30" text-anchor="middle" fill="#303030" font-family="Liberation Serif">0.06</text>
<text x="117.98" y="229.41" font-size="5.30" text-anchor="middle" fill="#303030" font-family="Liberation Serif">-0.26</text>
<text x="133.61" y="229.41" font-size="5.30" text-anchor="middle" fill="#303030" font-family="Liberation Serif">-0.06</text>
<text x="149.24" y="229.41" font-size="5.30" text-anchor="middle" fill="#303030" font-family="Liberation Serif">0.31</text>
<text x="164.87" y="229.41" font-size="5.30" text-anchor="middle" fill="#303030" font-family="Liberation Serif">-0.11</text>
<text x="180.50" y="229.41" font-size="5.30" text-anchor="middle" fill="#303030" font-family="Liberation Serif">0.01</text>
<text x="196.12" y="229.41" font-size="5.30" text-anchor="middle" fill="#303030" font-family="Liberation Serif">0.12</text>
<text x="211.75" y="229.41" font-size="5.30" text-anchor="middle" fill="#303030" font-family="Liberation Serif">0.11</text>
<text x="227.39" y="229.41" font-size="5.30" text-anchor="middle" fill="#303030" font-family="Liberation Serif">-0.01</text>
<text x="243.02" y="229.41" font-size="5.30" text-anchor="middle" fill="#303030" font-family="Liberation Serif">-0.10</text>
<text x="258.65" y="229.41" font-size="5.30" text-anchor="middle" fill="#303030" font-family="Liberation Serif">0.29</text>
<text x="274.28" y="229.41" font-size="5.30" text-anchor="middle" fill="#303030" font-family="Liberation Serif">0.11</text>
<text x="289.91" y="229.41" font-size="5.30" text-anchor="middle" fill="#ffffff" font-family="Liberation Serif">1.00</text>
<text x="305.54" y="229.41" font-size="5.30" text-anchor="middle" fill="#303030" font-family="Liberation Serif">0.38</text>
<text x="86.72" y="245.67" font-size="5.30" text-anchor="middle" fill="#303030" font-family="Liberation Serif">-0.35</text>
<text x="102.34" y="245.67" font-size="5.30" text-anchor="middle" fill="#303030" font-family="Liberation Serif">-0.21</text>
<text x="117.98" y="245.67" font-size="5.30" text-anchor="middle" fill="#303030" font-family="Liberation Serif">-0.40</text>
<text x="133.61" y="245.67" font-size="5.30" text-anchor="middle" fill="#303030" font-family="Liberation Serif">0.21</text>
<text x="149.24" y="245.67" font-size="5.30" text-anchor="middle" fill="#303030" font-family="Liberation Serif">0.19</text>
<text x="164.87" y="245.67" font-size="5.30" text-anchor="middle" fill="#303030" font-family="Liberation Serif">0.12</text>
<text x="180.50" y="245.67" font-size="5.30" text-anchor="middle" fill="#303030" font-family="Liberation Serif">-0.32</text>
<text x="196.12" y="245.67" font-size="5.30" text-anchor="middle" fill="#303030" font-family="Liberation Serif">-0.00</text>
<text x="211.75" y="245.67" font-size="5.30" text-anchor="middle" fill="#303030" font-family="Liberation Serif">-0.08</text>
<text x="227.39" y="245.67" font-size="5.30" text-anchor="middle" fill="#303030" font-family="Liberation Serif">-0.23</text>
<text x="243.02" y="245.67" font-size="5.30" text-anchor="middle" fill="#303030" font-family="Liberation Serif">-0.26</text>
<text x="258.65" y="245.67" font-size="5.30" text-anchor="middle" fill="#303030" font-family="Liberation Serif">0.27</text>
<text x="274.28" y="245.67" font-size="5.30" text-anchor="middle" fill="#303030" font-family="Liberation Serif">0.45</text>
<text x="289.91" y="245.67" font-size="5.30" text-anchor="middle" fill="#303030" font-family="Liberation Serif">0.38</text>
<text x="305.54" y="245.67" font-size="5.30" text-anchor="middle" fill="#ffffff" font-family="Liberation Serif">1.00</text>
<text x="77.00" y="18.13" font-size="5.61" text-anchor="end" fill="#262626" textLength="72.22" lengthAdjust="spacingAndGlyphs">Building Footprint Area(m²)</text>
<line x1="79.00" y1="16.23" x2="80.40" y2="16.23" stroke="#333" stroke-width="0.5"/>
<text x="77.00" y="34.39" font-size="5.61" text-anchor="end" fill="#262626" textLength="60.75" lengthAdjust="spacingAndGlyphs">Total Building Area(m²)</text>
<line x1="79.00" y1="32.49" x2="80.40" y2="32.49" stroke="#333" stroke-width="0.5"/>
<text x="77.00" y="50.65" font-size="5.61" text-anchor="end" fill="#262626" textLength="65.58" lengthAdjust="spacingAndGlyphs">Building Height Per Floor</text>
<line x1="79.00" y1="48.75" x2="80.40" y2="48.75" stroke="#333" stroke-width="0.5"/>
<text x="77.00" y="66.91" font-size="5.61" text-anchor="end" fill="#262626" textLength="68.77" lengthAdjust="spacingAndGlyphs">Number of Building Floors</text>
<line x1="79.00" y1="65.01" x2="80.40" y2="65.01" stroke="#333" stroke-width="0.5"/>
<text x="77.00" y="83.17" font-size="5.61" text-anchor="end" fill="#262626" textLength="58.23" lengthAdjust="spacingAndGlyphs">Building Perimeter(m)</text>
<line x1="79.00" y1="81.27" x2="80.40" y2="81.27" stroke="#333" stroke-width="0.5"/>
<text x="77.00" y="99.43" font-size="5.61" text-anchor="end" fill="#262626" textLength="63.94" lengthAdjust="spacingAndGlyphs">Building Total Height(m)</text>
<line x1="79.00" y1="97.53" x2="80.40" y2="97.53" stroke="#333" stroke-width="0.5"/>
<text x="77.00" y="115.69" font-size="5.61" text-anchor="end" fill="#262626" textLength="54.14" lengthAdjust="spacingAndGlyphs">Building volume(m³)</text>
<line x1="79.00" y1="113.79" x2="80.40" y2="113.79" stroke="#333" stroke-width="0.5"/>
<text x="77.00" y="131.95" font-size="5.61" text-anchor="end" fill="#262626" textLength="77.26" lengthAdjust="spacingAndGlyphs">Total Number of Hotel Rooms</text>
<line x1="79.00" y1="130.05" x2="80.40" y2="130.05" stroke="#333" stroke-width="0.5"/>
<text x="77.00" y="148.21" font-size="5.61" text-anchor="end" fill="#262626" textLength="56.03" lengthAdjust="spacingAndGlyphs">Total Room Area (m²)</text>
<line x1="79.00" y1="146.31" x2="80.40" y2="146.31" stroke="#333" stroke-width="0.5"/>
<text x="77.00" y="164.47" font-size="5.61" text-anchor="end" fill="#262626" textLength="65.40" lengthAdjust="spacingAndGlyphs">Average Room Area (m²)</text>
<line x1="79.00" y1="162.57" x2="80.40" y2="162.57" stroke="#333" stroke-width="0.5"/>
<text x="77.00" y="180.73" font-size="5.61" text-anchor="end" fill="#262626" textLength="39.76" lengthAdjust="spacingAndGlyphs">Area/Perimeter</text>
<line x1="79.00" y1="178.83" x2="80.40" y2="178.83" stroke="#333" stroke-width="0.5"/>
<text x="77.00" y="196.99" font-size="5.61" text-anchor="end" fill="#262626" textLength="77.50" lengthAdjust="spacingAndGlyphs">Height/Perimeter*L(3D Ratio)</text>
<line x1="79.00" y1="195.09" x2="80.40" y2="195.09" stroke="#333" stroke-width="0.5"/>
<text x="77.00" y="213.25" font-size="5.61" text-anchor="end" fill="#262626" textLength="63.86" lengthAdjust="spacingAndGlyphs">Height/Area*L(3D Ratio)</text>
<line x1="79.00" y1="211.35" x2="80.40" y2="211.35" stroke="#333" stroke-width="0.5"/>
<text x="77.00" y="229.51" font-size="5.61" text-anchor="end" fill="#262626" textLength="2.95" lengthAdjust="spacingAndGlyphs">L</text>
<line x1="79.00" y1="227.61" x2="80.40" y2="227.61" stroke="#333" stroke-width="0.5"/>
<text x="77.00" y="245.77" font-size="5.61" text-anchor="end" fill="#262626" textLength="64.36" lengthAdjust="spacingAndGlyphs">Per3DCEICC (kgCO2/m²)</text>
<line x1="79.00" y1="243.87" x2="80.40" y2="243.87" stroke="#333" stroke-width="0.5"/>
<line x1="86.72" y1="250.60" x2="86.72" y2="252.00" stroke="#333" stroke-width="0.5"/>
<text x="0.00" y="0.00" font-size="5.61" text-anchor="end" fill="#262626" textLength="72.22" lengthAdjust="spacingAndGlyphs" transform="translate(87.62,253.50) rotate(-90)">Building Footprint Area(m²)</text>
<line x1="102.34" y1="250.60" x2="102.34" y2="252.00" stroke="#333" stroke-width="0.5"/>
<text x="0.00" y="0.00" font-size="5.61" text-anchor="end" fill="#262626" textLength="60.75" lengthAdjust="spacingAndGlyphs" transform="translate(103.25,253.50) rotate(-90)">Total Building Area(m²)</text>
<line x1="117.98" y1="250.60" x2="117.98" y2="252.00" stroke="#333" stroke-width="0.5"/>
<text x="0.00" y="0.00" font-size="5.61" text-anchor="end" fill="#262626" textLength="65.58" lengthAdjust="spacingAndGlyphs" transform="translate(118.88,253.50) rotate(-90)">Building Height Per Floor</text>
<line x1="133.61" y1="250.60" x2="133.61" y2="252.00" stroke="#333" stroke-width="0.5"/>
<text x="0.00" y="0.00" font-size="5.61" text-anchor="end" fill="#262626" textLength="68.77" lengthAdjust="spacingAndGlyphs" transform="translate(134.51,253.50) rotate(-90)">Number of Building Floors</text>
<line x1="149.24" y1="250.60" x2="149.24" y2="252.00" stroke="#333" stroke-width="0.5"/>
<text x="0.00" y="0.00" font-size="5.61" text-anchor="end" fill="#262626" textLength="58.23" lengthAdjust="spacingAndGlyphs" transform="translate(150.14,253.50) rotate(-90)">Building Perimeter(m)</text>
<line x1="164.87" y1="250.60" x2="164.87" y2="252.00" stroke="#333" stroke-width="0.5"/>
<text x="0.00" y="0.00" font-size="5.61" text-anchor="end" fill="#262626" textLength="63.94" lengthAdjust="spacingAndGlyphs" transform="translate(165.77,253.50) rotate(-90)">Building Total Height(m)</text>
<line x1="180.50" y1="250.60" x2="180.50" y2="252.00" stroke="#333" stroke-width="0.5"/>
<text x="0.00" y="0.00" font-size="5.61" text-anchor="end" fill="#262626" textLength="54.14" lengthAdjust="spacingAndGlyphs" transform="translate(181.40,253.50) rotate(-90)">Building volume(m³)</text>
<line x1="196.12" y1="250.60" x2="196.12" y2="252.00" stroke="#333" stroke-width="0.5"/>
<text x="0.00" y="0.00" font-size="5.61" text-anchor="end" fill="#262626" textLength="77.26" lengthAdjust="spacingAndGlyphs" transform="translate(197.03,253.50) rotate(-90)">Total Number of Hotel Rooms</text>
<line x1="211.75" y1="250.60" x2="211.75" y2="252.00" stroke="#333" stroke-width="0.5"/>
<text x="0.00" y="0.00" font-size="5.61" text-anchor="end" fill="#262626" textLength="56.03" lengthAdjust="spacingAndGlyphs" transform="translate(212.66,253.50) rotate(-90)">Total Room Area (m²)</text>
<line x1="227.39" y1="250.60" x2="227.39" y2="252.00" stroke="#333" stroke-width="0.5"/>
<text x="0.00" y="0.00" font-size="5.61" text-anchor="end" fill="#262626" textLength="65.40" lengthAdjust="spacingAndGlyphs" transform="translate(228.29,253.50) rotate(-90)">Average Room Area (m²)</text>
<line x1="243.02" y1="250.60" x2="243.02" y2="252.00" stroke="#333" stroke-width="0.5"/>
<text x="0.00" y="0.00" font-size="5.61" text-anchor="end" fill="#262626" textLength="39.76" lengthAdjust="spacingAndGlyphs" transform="translate(243.92,253.50) rotate(-90)">Area/Perimeter</text>
<line x1="258.65" y1="250.60" x2="258.65" y2="252.00" stroke="#333" stroke-width="0.5"/>
<text x="0.00" y="0.00" font-size="5.61" text-anchor="end" fill="#262626" textLength="77.50" lengthAdjust="spacingAndGlyphs" transform="translate(259.55,253.50) rotate(-90)">Height/Perimeter*L(3D Ratio)</text>
<line x1="274.28" y1="250.60" x2="274.28" y2="252.00" stroke="#333" stroke-width="0.5"/>
<text x="0.00" y="0.00" font-size="5.61" text-anchor="end" fill="#262626" textLength="63.86" lengthAdjust="spacingAndGlyphs" transform="translate(275.18,253.50) rotate(-90)">Height/Area*L(3D Ratio)</text>
<line x1="289.91" y1="250.60" x2="289.91" y2="252.00" stroke="#333" stroke-width="0.5"/>
<text x="0.00" y="0.00" font-size="5.61" text-anchor="end" fill="#262626" textLength="2.95" lengthAdjust="spacingAndGlyphs" transform="translate(290.81,253.50) rotate(-90)">L</text>
<line x1="305.54" y1="250.60" x2="305.54" y2="252.00" stroke="#333" stroke-width="0.5"/>
<text x="0.00" y="0.00" font-size="5.61" text-anchor="end" fill="#262626" textLength="64.36" lengthAdjust="spacingAndGlyphs" transform="translate(306.44,253.50) rotate(-90)">Per3DCEICC (kgCO2/m²)</text>
<defs><linearGradient id="cba" x1="0" y1="0" x2="0" y2="1"><stop offset="0.0000" stop-color="#b40426"/><stop offset="0.0312" stop-color="#be242e"/><stop offset="0.0625" stop-color="#ca3b37"/><stop offset="0.0938" stop-color="#d44e41"/><stop offset="0.1250" stop-color="#dd5f4b"/><stop offset="0.1562" stop-color="#e46e56"/><stop offset="0.1875" stop-color="#eb7d62"/><stop offset="0.2188" stop-color="#f08b6e"/><stop offset="0.2500" stop-color="#f4987a"/><stop offset="0.2812" stop-color="#f6a586"/><stop offset="0.3125" stop-color="#f7b093"/><stop offset="0.3438" stop-color="#f7ba9f"/><stop offset="0.3750" stop-color="#f5c4ac"/><stop offset="0.4062" stop-color="#f1ccb8"/><stop offset="0.4375" stop-color="#ecd3c5"/><stop offset="0.4688" stop-color="#e5d8d1"/><stop offset="0.5000" stop-color="#dddcdc"/><stop offset="0.5312" stop-color="#d5dbe5"/><stop offset="0.5625" stop-color="#ccd9ed"/><stop offset="0.5938" stop-color="#c3d5f4"/><stop offset="0.6250" stop-color="#b9d0f9"/><stop offset="0.6562" stop-color="#aec9fc"/><stop offset="0.6875" stop-color="#a3c2fe"/><stop offset="0.7188" stop-color="#98b9ff"/><stop offset="0.7500" stop-color="#8db0fe"/><stop offset="0.7812" stop-color="#82a6fb"/><stop offset="0.8125" stop-color="#779af7"/><stop offset="0.8438" stop-color="#6c8ff1"/><stop offset="0.8750" stop-color="#6282ea"/><stop offset="0.9062" stop-color="#5875e1"/><stop offset="0.9375" stop-color="#4e68d8"/><stop offset="0.9688" stop-color="#445acc"/><stop offset="1.0000" stop-color="#3b4cc0"/></linearGradient></defs>
<rect x="328.60" y="8.10" width="11.40" height="243.90" fill="url(#cba)"/>
<line x1="340.00" y1="8.10" x2="341.60" y2="8.10" stroke="#333" stroke-width="0.5"/>
<text x="342.80" y="9.90" font-size="5.30" text-anchor="start" fill="#262626" textLength="11.13" lengthAdjust="spacingAndGlyphs">1.00</text>
<line x1="340.00" y1="38.59" x2="341.60" y2="38.59" stroke="#333" stroke-width="0.5"/>
<text x="342.80" y="40.39" font-size="5.30" text-anchor="start" fill="#262626" textLength="11.13" lengthAdjust="spacingAndGlyphs">0.75</text>
<line x1="340.00" y1="69.07" x2="341.60" y2="69.07" stroke="#333" stroke-width="0.5"/>
<text x="342.80" y="70.87" font-size="5.30" text-anchor="start" fill="#262626" textLength="11.13" lengthAdjust="spacingAndGlyphs">0.50</text>
<line x1="340.00" y1="99.56" x2="341.60" y2="99.56" stroke="#333" stroke-width="0.5"/>
<text x="342.80" y="101.36" font-size="5.30" text-anchor="start" fill="#262626" textLength="11.13" lengthAdjust="spacingAndGlyphs">0.25</text>
<line x1="340.00" y1="130.05" x2="341.60" y2="130.05" stroke="#333" stroke-width="0.5"/>
<text x="342.80" y="131.85" font-size="5.30" text-anchor="start" fill="#262626" textLength="11.13" lengthAdjust="spacingAndGlyphs">0.00</text>
<line x1="340.00" y1="160.54" x2="341.60" y2="160.54" stroke="#333" stroke-width="0.5"/>
<text x="342.80" y="162.34" font-size="5.30" text-anchor="start" fill="#262626" textLength="15.32" lengthAdjust="spacingAndGlyphs">−0.25</text>
<line x1="340.00" y1="191.03" x2="341.60" y2="191.03" stroke="#333" stroke-width="0.5"/>
<text x="342.80" y="192.83" font-size="5.30" text-anchor="start" fill="#262626" textLength="15.32" lengthAdjust="spacingAndGlyphs">−0.50</text>
<line x1="340.00" y1="221.51" x2="341.60" y2="221.51" stroke="#333" stroke-width="0.5"/>
<text x="342.80" y="223.31" font-size="5.30" text-anchor="start" fill="#262626" textLength="15.32" lengthAdjust="spacingAndGlyphs">−0.75</text>
<line x1="340.00" y1="252.00" x2="341.60" y2="252.00" stroke="#333" stroke-width="0.5"/>
<text x="342.80" y="253.80" font-size="5.30" text-anchor="start" fill="#262626" textLength="15.32" lengthAdjust="spacingAndGlyphs">−1.00</text>
<text x="89.8" y="5.4" font-size="7.0" font-family="Liberation Serif" font-weight="bold" fill="#333">a.</text>
<text x="98.90" y="5.90" font-size="7.44" text-anchor="start" fill="#262626" textLength="195.09" lengthAdjust="spacingAndGlyphs">Correlation Matrix of Building Features and Per3DCEICC</text>
<rect x="356" y="0" width="329" height="296" fill="#fff"/>
<rect x="441.00" y="9.00" width="16.18" height="16.09" fill="#b40426"/>
<rect x="457.96" y="9.00" width="16.18" height="16.09" fill="#eed0c0"/>
<rect x="474.92" y="9.00" width="16.18" height="16.09" fill="#97b8ff"/>
<rect x="491.88" y="9.00" width="16.18" height="16.09" fill="#4f69d9"/>
<rect x="508.84" y="9.00" width="16.18" height="16.09" fill="#bfd3f6"/>
<rect x="525.80" y="9.00" width="16.18" height="16.09" fill="#ead5c9"/>
<rect x="542.76" y="9.00" width="16.18" height="16.09" fill="#e8d6cc"/>
<rect x="559.72" y="9.00" width="16.18" height="16.09" fill="#e5d8d1"/>
<rect x="576.68" y="9.00" width="16.18" height="16.09" fill="#d75445"/>
<rect x="593.64" y="9.00" width="16.18" height="16.09" fill="#3c4ec2"/>
<rect x="610.60" y="9.00" width="16.18" height="16.09" fill="#3b4cc0"/>
<rect x="627.56" y="9.00" width="16.18" height="16.09" fill="#89acfd"/>
<rect x="441.00" y="25.88" width="16.18" height="16.09" fill="#eed0c0"/>
<rect x="457.96" y="25.88" width="16.18" height="16.09" fill="#b40426"/>
<rect x="474.92" y="25.88" width="16.18" height="16.09" fill="#c0d4f5"/>
<rect x="491.88" y="25.88" width="16.18" height="16.09" fill="#f7aa8c"/>
<rect x="508.84" y="25.88" width="16.18" height="16.09" fill="#d65244"/>
<rect x="525.80" y="25.88" width="16.18" height="16.09" fill="#bb1b2c"/>
<rect x="542.76" y="25.88" width="16.18" height="16.09" fill="#d95847"/>
<rect x="559.72" y="25.88" width="16.18" height="16.09" fill="#efcfbf"/>
<rect x="576.68" y="25.88" width="16.18" height="16.09" fill="#9dbdff"/>
<rect x="593.64" y="25.88" width="16.18" height="16.09" fill="#98b9ff"/>
<rect x="610.60" y="25.88" width="16.18" height="16.09" fill="#bbd1f8"/>
<rect x="627.56" y="25.88" width="16.18" height="16.09" fill="#81a4fb"/>
<rect x="441.00" y="42.75" width="16.18" height="16.09" fill="#97b8ff"/>
<rect x="457.96" y="42.75" width="16.18" height="16.09" fill="#c0d4f5"/>
<rect x="474.92" y="42.75" width="16.18" height="16.09" fill="#b40426"/>
<rect x="491.88" y="42.75" width="16.18" height="16.09" fill="#e1dad6"/>
<rect x="508.84" y="42.75" width="16.18" height="16.09" fill="#b1cbfc"/>
<rect x="525.80" y="42.75" width="16.18" height="16.09" fill="#ead5c9"/>
<rect x="542.76" y="42.75" width="16.18" height="16.09" fill="#c0d4f5"/>
<rect x="559.72" y="42.75" width="16.18" height="16.09" fill="#d2dbe8"/>
<rect x="576.68" y="42.75" width="16.18" height="16.09" fill="#9fbfff"/>
<rect x="593.64" y="42.75" width="16.18" height="16.09" fill="#f7b99e"/>
<rect x="610.60" y="42.75" width="16.18" height="16.09" fill="#efcfbf"/>
<rect x="627.56" y="42.75" width="16.18" height="16.09" fill="#7a9df8"/>
<rect x="441.00" y="59.62" width="16.18" height="16.09" fill="#4f69d9"/>
<rect x="457.96" y="59.62" width="16.18" height="16.09" fill="#f7aa8c"/>
<rect x="474.92" y="59.62" width="16.18" height="16.09" fill="#e1dad6"/>
<rect x="491.88" y="59.62" width="16.18" height="16.09" fill="#b40426"/>
<rect x="508.84" y="59.62" width="16.18" height="16.09" fill="#ee8669"/>
<rect x="525.80" y="59.62" width="16.18" height="16.09" fill="#f7aa8c"/>
<rect x="542.76" y="59.62" width="16.18" height="16.09" fill="#f6bea4"/>
<rect x="559.72" y="59.62" width="16.18" height="16.09" fill="#cedaeb"/>
<rect x="576.68" y="59.62" width="16.18" height="16.09" fill="#3c4ec2"/>
<rect x="593.64" y="59.62" width="16.18" height="16.09" fill="#f7ad90"/>
<rect x="610.60" y="59.62" width="16.18" height="16.09" fill="#e0654f"/>
<rect x="627.56" y="59.62" width="16.18" height="16.09" fill="#d2dbe8"/>
<rect x="441.00" y="76.50" width="16.18" height="16.09" fill="#bfd3f6"/>
<rect x="457.96" y="76.50" width="16.18" height="16.09" fill="#d65244"/>
<rect x="474.92" y="76.50" width="16.18" height="16.09" fill="#b1cbfc"/>
<rect x="491.88" y="76.50" width="16.18" height="16.09" fill="#ee8669"/>
<rect x="508.84" y="76.50" width="16.18" height="16.09" fill="#b40426"/>
<rect x="525.80" y="76.50" width="16.18" height="16.09" fill="#e16751"/>
<rect x="542.76" y="76.50" width="16.18" height="16.09" fill="#e8765c"/>
<rect x="559.72" y="76.50" width="16.18" height="16.09" fill="#dfdbd9"/>
<rect x="576.68" y="76.50" width="16.18" height="16.09" fill="#6282ea"/>
<rect x="593.64" y="76.50" width="16.18" height="16.09" fill="#c0d4f5"/>
<rect x="610.60" y="76.50" width="16.18" height="16.09" fill="#eed0c0"/>
<rect x="627.56" y="76.50" width="16.18" height="16.09" fill="#bcd2f7"/>
<rect x="441.00" y="93.38" width="16.18" height="16.09" fill="#ead5c9"/>
<rect x="457.96" y="93.38" width="16.18" height="16.09" fill="#bb1b2c"/>
<rect x="474.92" y="93.38" width="16.18" height="16.09" fill="#ead5c9"/>
<rect x="491.88" y="93.38" width="16.18" height="16.09" fill="#f7aa8c"/>
<rect x="508.84" y="93.38" width="16.18" height="16.09" fill="#e16751"/>
<rect x="525.80" y="93.38" width="16.18" height="16.09" fill="#b40426"/>
<rect x="542.76" y="93.38" width="16.18" height="16.09" fill="#de614d"/>
<rect x="559.72" y="93.38" width="16.18" height="16.09" fill="#f0cdbb"/>
<rect x="576.68" y="93.38" width="16.18" height="16.09" fill="#9bbcff"/>
<rect x="593.64" y="93.38" width="16.18" height="16.09" fill="#adc9fd"/>
<rect x="610.60" y="93.38" width="16.18" height="16.09" fill="#c4d5f3"/>
<rect x="627.56" y="93.38" width="16.18" height="16.09" fill="#6c8ff1"/>
<rect x="441.00" y="110.25" width="16.18" height="16.09" fill="#e8d6cc"/>
<rect x="457.96" y="110.25" width="16.18" height="16.09" fill="#d95847"/>
<rect x="474.92" y="110.25" width="16.18" height="16.09" fill="#c0d4f5"/>
<rect x="491.88" y="110.25" width="16.18" height="16.09" fill="#f6bea4"/>
<rect x="508.84" y="110.25" width="16.18" height="16.09" fill="#e8765c"/>
<rect x="525.80" y="110.25" width="16.18" height="16.09" fill="#de614d"/>
<rect x="542.76" y="110.25" width="16.18" height="16.09" fill="#b40426"/>
<rect x="559.72" y="110.25" width="16.18" height="16.09" fill="#c6d6f1"/>
<rect x="576.68" y="110.25" width="16.18" height="16.09" fill="#abc8fd"/>
<rect x="593.64" y="110.25" width="16.18" height="16.09" fill="#adc9fd"/>
<rect x="610.60" y="110.25" width="16.18" height="16.09" fill="#bfd3f6"/>
<rect x="627.56" y="110.25" width="16.18" height="16.09" fill="#d5dbe5"/>
<rect x="441.00" y="127.12" width="16.18" height="16.09" fill="#e5d8d1"/>
<rect x="457.96" y="127.12" width="16.18" height="16.09" fill="#efcfbf"/>
<rect x="474.92" y="127.12" width="16.18" height="16.09" fill="#d2dbe8"/>
<rect x="491.88" y="127.12" width="16.18" height="16.09" fill="#cedaeb"/>
<rect x="508.84" y="127.12" width="16.18" height="16.09" fill="#dfdbd9"/>
<rect x="525.80" y="127.12" width="16.18" height="16.09" fill="#f0cdbb"/>
<rect x="542.76" y="127.12" width="16.18" height="16.09" fill="#c6d6f1"/>
<rect x="559.72" y="127.12" width="16.18" height="16.09" fill="#b40426"/>
<rect x="576.68" y="127.12" width="16.18" height="16.09" fill="#cbd8ee"/>
<rect x="593.64" y="127.12" width="16.18" height="16.09" fill="#a1c0ff"/>
<rect x="610.60" y="127.12" width="16.18" height="16.09" fill="#abc8fd"/>
<rect x="627.56" y="127.12" width="16.18" height="16.09" fill="#7699f6"/>
<rect x="441.00" y="144.00" width="16.18" height="16.09" fill="#d75445"/>
<rect x="457.96" y="144.00" width="16.18" height="16.09" fill="#9dbdff"/>
<rect x="474.92" y="144.00" width="16.18" height="16.09" fill="#9fbfff"/>
<rect x="491.88" y="144.00" width="16.18" height="16.09" fill="#3c4ec2"/>
<rect x="508.84" y="144.00" width="16.18" height="16.09" fill="#6282ea"/>
<rect x="525.80" y="144.00" width="16.18" height="16.09" fill="#9bbcff"/>
<rect x="542.76" y="144.00" width="16.18" height="16.09" fill="#abc8fd"/>
<rect x="559.72" y="144.00" width="16.18" height="16.09" fill="#cbd8ee"/>
<rect x="576.68" y="144.00" width="16.18" height="16.09" fill="#b40426"/>
<rect x="593.64" y="144.00" width="16.18" height="16.09" fill="#6282ea"/>
<rect x="610.60" y="144.00" width="16.18" height="16.09" fill="#4f69d9"/>
<rect x="627.56" y="144.00" width="16.18" height="16.09" fill="#b3cdfb"/>
<rect x="441.00" y="160.88" width="16.18" height="16.09" fill="#3c4ec2"/>
<rect x="457.96" y="160.88" width="16.18" height="16.09" fill="#98b9ff"/>
<rect x="474.92" y="160.88" width="16.18" height="16.09" fill="#f7b99e"/>
<rect x="491.88" y="160.88" width="16.18" height="16.09" fill="#f7ad90"/>
<rect x="508.84" y="160.88" width="16.18" height="16.09" fill="#c0d4f5"/>
<rect x="525.80" y="160.88" width="16.18" height="16.09" fill="#adc9fd"/>
<rect x="542.76" y="160.88" width="16.18" height="16.09" fill="#adc9fd"/>
<rect x="559.72" y="160.88" width="16.18" height="16.09" fill="#a1c0ff"/>
<rect x="576.68" y="160.88" width="16.18" height="16.09" fill="#6282ea"/>
<rect x="593.64" y="160.88" width="16.18" height="16.09" fill="#b40426"/>
<rect x="610.60" y="160.88" width="16.18" height="16.09" fill="#da5a49"/>
<rect x="627.56" y="160.88" width="16.18" height="16.09" fill="#f0cdbb"/>
<rect x="441.00" y="177.75" width="16.18" height="16.09" fill="#3b4cc0"/>
<rect x="457.96" y="177.75" width="16.18" height="16.09" fill="#bbd1f8"/>
<rect x="474.92" y="177.75" width="16.18" height="16.09" fill="#efcfbf"/>
<rect x="491.88" y="177.75" width="16.18" height="16.09" fill="#e0654f"/>
<rect x="508.84" y="177.75" width="16.18" height="16.09" fill="#eed0c0"/>
<rect x="525.80" y="177.75" width="16.18" height="16.09" fill="#c4d5f3"/>
<rect x="542.76" y="177.75" width="16.18" height="16.09" fill="#bfd3f6"/>
<rect x="559.72" y="177.75" width="16.18" height="16.09" fill="#abc8fd"/>
<rect x="576.68" y="177.75" width="16.18" height="16.09" fill="#4f69d9"/>
<rect x="593.64" y="177.75" width="16.18" height="16.09" fill="#da5a49"/>
<rect x="610.60" y="177.75" width="16.18" height="16.09" fill="#b40426"/>
<rect x="627.56" y="177.75" width="16.18" height="16.09" fill="#f3c8b2"/>
<rect x="441.00" y="194.62" width="16.18" height="16.09" fill="#89acfd"/>
<rect x="457.96" y="194.62" width="16.18" height="16.09" fill="#81a4fb"/>
<rect x="474.92" y="194.62" width="16.18" height="16.09" fill="#7a9df8"/>
<rect x="491.88" y="194.62" width="16.18" height="16.09" fill="#d2dbe8"/>
<rect x="508.84" y="194.62" width="16.18" height="16.09" fill="#bcd2f7"/>
<rect x="525.80" y="194.62" width="16.18" height="16.09" fill="#6c8ff1"/>
<rect x="542.76" y="194.62" width="16.18" height="16.09" fill="#d5dbe5"/>
<rect x="559.72" y="194.62" width="16.18" height="16.09" fill="#7699f6"/>
<rect x="576.68" y="194.62" width="16.18" height="16.09" fill="#b3cdfb"/>
<rect x="593.64" y="194.62" width="16.18" height="16.09" fill="#f0cdbb"/>
<rect x="610.60" y="194.62" width="16.18" height="16.09" fill="#f3c8b2"/>
<rect x="627.56" y="194.62" width="16.18" height="16.09" fill="#b40426"/>
<text x="449.08" y="18.91" font-size="5.50" text-anchor="middle" fill="#ffffff" font-family="Liberation Serif">1.00</text>
<text x="466.04" y="18.91" font-size="5.50" text-anchor="middle" fill="#303030" font-family="Liberation Serif">0.27</text>
<text x="483.00" y="18.91" font-size="5.50" text-anchor="middle" fill="#303030" font-family="Liberation Serif">-0.24</text>
<text x="499.96" y="18.91" font-size="5.50" text-anchor="middle" fill="#ffffff" font-family="Liberation Serif">-0.60</text>
<text x="516.92" y="18.91" font-size="5.50" text-anchor="middle" fill="#303030" font-family="Liberation Serif">-0.04</text>
<text x="533.88" y="18.91" font-size="5.50" text-anchor="middle" fill="#303030" font-family="Liberation Serif">0.23</text>
<text x="550.84" y="18.91" font-size="5.50" text-anchor="middle" fill="#303030" font-family="Liberation Serif">0.22</text>
<text x="567.80" y="18.91" font-size="5.50" text-anchor="middle" fill="#303030" font-family="Liberation Serif">0.20</text>
<text x="584.76" y="18.91" font-size="5.50" text-anchor="middle" fill="#ffffff" font-family="Liberation Serif">0.82</text>
<text x="601.72" y="18.91" font-size="5.50" text-anchor="middle" fill="#ffffff" font-family="Liberation Serif">-0.71</text>
<text x="618.68" y="18.91" font-size="5.50" text-anchor="middle" fill="#ffffff" font-family="Liberation Serif">-0.72</text>
<text x="635.64" y="18.91" font-size="5.50" text-anchor="middle" fill="#303030" font-family="Liberation Serif">-0.31</text>
<text x="449.08" y="35.78" font-size="5.50" text-anchor="middle" fill="#303030" font-family="Liberation Serif">0.27</text>
<text x="466.04" y="35.78" font-size="5.50" text-anchor="middle" fill="#ffffff" font-family="Liberation Serif">1.00</text>
<text x="483.00" y="35.78" font-size="5.50" text-anchor="middle" fill="#303030" font-family="Liberation Serif">-0.03</text>
<text x="499.96" y="35.78" font-size="5.50" text-anchor="middle" fill="#303030" font-family="Liberation Serif">0.49</text>
<text x="516.92" y="35.78" font-size="5.50" text-anchor="middle" fill="#ffffff" font-family="Liberation Serif">0.83</text>
<text x="533.88" y="35.78" font-size="5.50" text-anchor="middle" fill="#ffffff" font-family="Liberation Serif">0.96</text>
<text x="550.84" y="35.78" font-size="5.50" text-anchor="middle" fill="#ffffff" font-family="Liberation Serif">0.81</text>
<text x="567.80" y="35.78" font-size="5.50" text-anchor="middle" fill="#303030" font-family="Liberation Serif">0.28</text>
<text x="584.76" y="35.78" font-size="5.50" text-anchor="middle" fill="#303030" font-family="Liberation Serif">-0.21</text>
<text x="601.72" y="35.78" font-size="5.50" text-anchor="middle" fill="#303030" font-family="Liberation Serif">-0.23</text>
<text x="618.68" y="35.78" font-size="5.50" text-anchor="middle" fill="#303030" font-family="Liberation Serif">-0.06</text>
<text x="635.64" y="35.78" font-size="5.50" text-anchor="middle" fill="#ffffff" font-family="Liberation Serif">-0.35</text>
<text x="449.08" y="52.66" font-size="5.50" text-anchor="middle" fill="#303030" font-family="Liberation Serif">-0.24</text>
<text x="466.04" y="52.66" font-size="5.50" text-anchor="middle" fill="#303030" font-family="Liberation Serif">-0.03</text>
<text x="483.00" y="52.66" font-size="5.50" text-anchor="middle" fill="#ffffff" font-family="Liberation Serif">1.00</text>
<text x="499.96" y="52.66" font-size="5.50" text-anchor="middle" fill="#303030" font-family="Liberation Serif">0.17</text>
<text x="516.92" y="52.66" font-size="5.50" text-anchor="middle" fill="#303030" font-family="Liberation Serif">-0.11</text>
<text x="533.88" y="52.66" font-size="5.50" text-anchor="middle" fill="#303030" font-family="Liberation Serif">0.23</text>
<text x="550.84" y="52.66" font-size="5.50" text-anchor="middle" fill="#303030" font-family="Liberation Serif">-0.03</text>
<text x="567.80" y="52.66" font-size="5.50" text-anchor="middle" fill="#303030" font-family="Liberation Serif">0.07</text>
<text x="584.76" y="52.66" font-size="5.50" text-anchor="middle" fill="#303030" font-family="Liberation Serif">-0.20</text>
<text x="601.72" y="52.66" font-size="5.50" text-anchor="middle" fill="#303030" font-family="Liberation Serif">0.42</text>
<text x="618.68" y="52.66" font-size="5.50" text-anchor="middle" fill="#303030" font-family="Liberation Serif">0.28</text>
<text x="635.64" y="52.66" font-size="5.50" text-anchor="middle" fill="#ffffff" font-family="Liberation Serif">-0.38</text>
<text x="449.08" y="69.53" font-size="5.50" text-anchor="middle" fill="#ffffff" font-family="Liberation Serif">-0.60</text>
<text x="466.04" y="69.53" font-size="5.50" text-anchor="middle" fill="#303030" font-family="Liberation Serif">0.49</text>
<text x="483.00" y="69.53" font-size="5.50" text-anchor="middle" fill="#303030" font-family="Liberation Serif">0.17</text>
<text x="499.96" y="69.53" font-size="5.50" text-anchor="middle" fill="#ffffff" font-family="Liberation Serif">1.00</text>
<text x="516.92" y="69.53" font-size="5.50" text-anchor="middle" fill="#ffffff" font-family="Liberation Serif">0.65</text>
<text x="533.88" y="69.53" font-size="5.50" text-anchor="middle" fill="#303030" font-family="Liberation Serif">0.49</text>
<text x="550.84" y="69.53" font-size="5.50" text-anchor="middle" fill="#303030" font-family="Liberation Serif">0.39</text>
<text x="567.80" y="69.53" font-size="5.50" text-anchor="middle" fill="#303030" font-family="Liberation Serif">0.05</text>
<text x="584.76" y="69.53" font-size="5.50" text-anchor="middle" fill="#ffffff" font-family="Liberation Serif">-0.71</text>
<text x="601.72" y="69.53" font-size="5.50" text-anchor="middle" fill="#303030" font-family="Liberation Serif">0.48</text>
<text x="618.68" y="69.53" font-size="5.50" text-anchor="middle" fill="#ffffff" font-family="Liberation Serif">0.77</text>
<text x="635.64" y="69.53" font-size="5.50" text-anchor="middle" fill="#303030" font-family="Liberation Serif">0.07</text>
<text x="449.08" y="86.41" font-size="5.50" text-anchor="middle" fill="#303030" font-family="Liberation Serif">-0.04</text>
<text x="466.04" y="86.41" font-size="5.50" text-anchor="middle" fill="#ffffff" font-family="Liberation Serif">0.83</text>
<text x="483.00" y="86.41" font-size="5.50" text-anchor="middle" fill="#303030" font-family="Liberation Serif">-0.11</text>
<text x="499.96" y="86.41" font-size="5.50" text-anchor="middle" fill="#ffffff" font-family="Liberation Serif">0.65</text>
<text x="516.92" y="86.41" font-size="5.50" text-anchor="middle" fill="#ffffff" font-family="Liberation Serif">1.00</text>
<text x="533.88" y="86.41" font-size="5.50" text-anchor="middle" fill="#ffffff" font-family="Liberation Serif">0.76</text>
<text x="550.84" y="86.41" font-size="5.50" text-anchor="middle" fill="#ffffff" font-family="Liberation Serif">0.71</text>
<text x="567.80" y="86.41" font-size="5.50" text-anchor="middle" fill="#303030" font-family="Liberation Serif">0.16</text>
<text x="584.76" y="86.41" font-size="5.50" text-anchor="middle" fill="#ffffff" font-family="Liberation Serif">-0.50</text>
<text x="601.72" y="86.41" font-size="5.50" text-anchor="middle" fill="#303030" font-family="Liberation Serif">-0.03</text>
<text x="618.68" y="86.41" font-size="5.50" text-anchor="middle" fill="#303030" font-family="Liberation Serif">0.27</text>
<text x="635.64" y="86.41" font-size="5.50" text-anchor="middle" fill="#303030" font-family="Liberation Serif">-0.05</text>
<text x="449.08" y="103.28" font-size="5.50" text-anchor="middle" fill="#303030" font-family="Liberation Serif">0.23</text>
<text x="466.04" y="103.28" font-size="5.50" text-anchor="middle" fill="#ffffff" font-family="Liberation Serif">0.96</text>
<text x="483.00" y="103.28" font-size="5.50" text-anchor="middle" fill="#303030" font-family="Liberation Serif">0.23</text>
<text x="499.96" y="103.28" font-size="5.50" text-anchor="middle" fill="#303030" font-family="Liberation Serif">0.49</text>
<text x="516.92" y="103.28" font-size="5.50" text-anchor="middle" fill="#ffffff" font-family="Liberation Serif">0.76</text>
<text x="533.88" y="103.28" font-size="5.50" text-anchor="middle" fill="#ffffff" font-family="Liberation Serif">1.00</text>
<text x="550.84" y="103.28" font-size="5.50" text-anchor="middle" fill="#ffffff" font-family="Liberation Serif">0.78</text>
<text x="567.80" y="103.28" font-size="5.50" text-anchor="middle" fill="#303030" font-family="Liberation Serif">0.29</text>
<text x="584.76" y="103.28" font-size="5.50" text-anchor="middle" fill="#303030" font-family="Liberation Serif">-0.22</text>
<text x="601.72" y="103.28" font-size="5.50" text-anchor="middle" fill="#303030" font-family="Liberation Serif">-0.13</text>
<text x="618.68" y="103.28" font-size="5.50" text-anchor="middle" fill="#303030" font-family="Liberation Serif">-0.01</text>
<text x="635.64" y="103.28" font-size="5.50" text-anchor="middle" fill="#ffffff" font-family="Liberation Serif">-0.45</text>
<text x="449.08" y="120.16" font-size="5.50" text-anchor="middle" fill="#303030" font-family="Liberation Serif">0.22</text>
<text x="466.04" y="120.16" font-size="5.50" text-anchor="middle" fill="#ffffff" font-family="Liberation Serif">0.81</text>
<text x="483.00" y="120.16" font-size="5.50" text-anchor="middle" fill="#303030" font-family="Liberation Serif">-0.03</text>
<text x="499.96" y="120.16" font-size="5.50" text-anchor="middle" fill="#303030" font-family="Liberation Serif">0.39</text>
<text x="516.92" y="120.16" font-size="5.50" text-anchor="middle" fill="#ffffff" font-family="Liberation Serif">0.71</text>
<text x="533.88" y="120.16" font-size="5.50" text-anchor="middle" fill="#ffffff" font-family="Liberation Serif">0.78</text>
<text x="550.84" y="120.16" font-size="5.50" text-anchor="middle" fill="#ffffff" font-family="Liberation Serif">1.00</text>
<text x="567.80" y="120.16" font-size="5.50" text-anchor="middle" fill="#303030" font-family="Liberation Serif">0.00</text>
<text x="584.76" y="120.16" font-size="5.50" text-anchor="middle" fill="#303030" font-family="Liberation Serif">-0.14</text>
<text x="601.72" y="120.16" font-size="5.50" text-anchor="middle" fill="#303030" font-family="Liberation Serif">-0.13</text>
<text x="618.68" y="120.16" font-size="5.50" text-anchor="middle" fill="#303030" font-family="Liberation Serif">-0.04</text>
<text x="635.64" y="120.16" font-size="5.50" text-anchor="middle" fill="#303030" font-family="Liberation Serif">0.09</text>
<text x="449.08" y="137.03" font-size="5.50" text-anchor="middle" fill="#303030" font-family="Liberation Serif">0.20</text>
<text x="466.04" y="137.03" font-size="5.50" text-anchor="middle" fill="#303030" font-family="Liberation Serif">0.28</text>
<text x="483.00" y="137.03" font-size="5.50" text-anchor="middle" fill="#303030" font-family="Liberation Serif">0.07</text>
<text x="499.96" y="137.03" font-size="5.50" text-anchor="middle" fill="#303030" font-family="Liberation Serif">0.05</text>
<text x="516.92" y="137.03" font-size="5.50" text-anchor="middle" fill="#303030" font-family="Liberation Serif">0.16</text>
<text x="533.88" y="137.03" font-size="5.50" text-anchor="middle" fill="#303030" font-family="Liberation Serif">0.29</text>
<text x="550.84" y="137.03" font-size="5.50" text-anchor="middle" fill="#303030" font-family="Liberation Serif">0.00</text>
<text x="567.80" y="137.03" font-size="5.50" text-anchor="middle" fill="#ffffff" font-family="Liberation Serif">1.00</text>
<text x="584.76" y="137.03" font-size="5.50" text-anchor="middle" fill="#303030" font-family="Liberation Serif">0.03</text>
<text x="601.72" y="137.03" font-size="5.50" text-anchor="middle" fill="#303030" font-family="Liberation Serif">-0.19</text>
<text x="618.68" y="137.03" font-size="5.50" text-anchor="middle" fill="#303030" font-family="Liberation Serif">-0.14</text>
<text x="635.64" y="137.03" font-size="5.50" text-anchor="middle" fill="#ffffff" font-family="Liberation Serif">-0.40</text>
<text x="449.08" y="153.91" font-size="5.50" text-anchor="middle" fill="#ffffff" font-family="Liberation Serif">0.82</text>
<text x="466.04" y="153.91" font-size="5.50" text-anchor="middle" fill="#303030" font-family="Liberation Serif">-0.21</text>
<text x="483.00" y="153.91" font-size="5.50" text-anchor="middle" fill="#303030" font-family="Liberation Serif">-0.20</text>
<text x="499.96" y="153.91" font-size="5.50" text-anchor="middle" fill="#ffffff" font-family="Liberation Serif">-0.71</text>
<text x="516.92" y="153.91" font-size="5.50" text-anchor="middle" fill="#ffffff" font-family="Liberation Serif">-0.50</text>
<text x="533.88" y="153.91" font-size="5.50" text-anchor="middle" fill="#303030" font-family="Liberation Serif">-0.22</text>
<text x="550.84" y="153.91" font-size="5.50" text-anchor="middle" fill="#303030" font-family="Liberation Serif">-0.14</text>
<text x="567.80" y="153.91" font-size="5.50" text-anchor="middle" fill="#303030" font-family="Liberation Serif">0.03</text>
<text x="584.76" y="153.91" font-size="5.50" text-anchor="middle" fill="#ffffff" font-family="Liberation Serif">1.00</text>
<text x="601.72" y="153.91" font-size="5.50" text-anchor="middle" fill="#ffffff" font-family="Liberation Serif">-0.50</text>
<text x="618.68" y="153.91" font-size="5.50" text-anchor="middle" fill="#ffffff" font-family="Liberation Serif">-0.60</text>
<text x="635.64" y="153.91" font-size="5.50" text-anchor="middle" fill="#303030" font-family="Liberation Serif">-0.10</text>
<text x="449.08" y="170.78" font-size="5.50" text-anchor="middle" fill="#ffffff" font-family="Liberation Serif">-0.71</text>
<text x="466.04" y="170.78" font-size="5.50" text-anchor="middle" fill="#303030" font-family="Liberation Serif">-0.23</text>
<text x="483.00" y="170.78" font-size="5.50" text-anchor="middle" fill="#303030" font-family="Liberation Serif">0.42</text>
<text x="499.96" y="170.78" font-size="5.50" text-anchor="middle" fill="#303030" font-family="Liberation Serif">0.48</text>
<text x="516.92" y="170.78" font-size="5.50" text-anchor="middle" fill="#303030" font-family="Liberation Serif">-0.03</text>
<text x="533.88" y="170.78" font-size="5.50" text-anchor="middle" fill="#303030" font-family="Liberation Serif">-0.13</text>
<text x="550.84" y="170.78" font-size="5.50" text-anchor="middle" fill="#303030" font-family="Liberation Serif">-0.13</text>
<text x="567.80" y="170.78" font-size="5.50" text-anchor="middle" fill="#303030" font-family="Liberation Serif">-0.19</text>
<text x="584.76" y="170.78" font-size="5.50" text-anchor="middle" fill="#ffffff" font-family="Liberation Serif">-0.50</text>
<text x="601.72" y="170.78" font-size="5.50" text-anchor="middle" fill="#ffffff" font-family="Liberation Serif">1.00</text>
<text x="618.68" y="170.78" font-size="5.50" text-anchor="middle" fill="#ffffff" font-family="Liberation Serif">0.80</text>
<text x="635.64" y="170.78" font-size="5.50" text-anchor="middle" fill="#303030" font-family="Liberation Serif">0.29</text>
<text x="449.08" y="187.66" font-size="5.50" text-anchor="middle" fill="#ffffff" font-family="Liberation Serif">-0.72</text>
<text x="466.04" y="187.66" font-size="5.50" text-anchor="middle" fill="#303030" font-family="Liberation Serif">-0.06</text>
<text x="483.00" y="187.66" font-size="5.50" text-anchor="middle" fill="#303030" font-family="Liberation Serif">0.28</text>
<text x="499.96" y="187.66" font-size="5.50" text-anchor="middle" fill="#ffffff" font-family="Liberation Serif">0.77</text>
<text x="516.92" y="187.66" font-size="5.50" text-anchor="middle" fill="#303030" font-family="Liberation Serif">0.27</text>
<text x="533.88" y="187.66" font-size="5.50" text-anchor="middle" fill="#303030" font-family="Liberation Serif">-0.01</text>
<text x="550.84" y="187.66" font-size="5.50" text-anchor="middle" fill="#303030" font-family="Liberation Serif">-0.04</text>
<text x="567.80" y="187.66" font-size="5.50" text-anchor="middle" fill="#303030" font-family="Liberation Serif">-0.14</text>
<text x="584.76" y="187.66" font-size="5.50" text-anchor="middle" fill="#ffffff" font-family="Liberation Serif">-0.60</text>
<text x="601.72" y="187.66" font-size="5.50" text-anchor="middle" fill="#ffffff" font-family="Liberation Serif">0.80</text>
<text x="618.68" y="187.66" font-size="5.50" text-anchor="middle" fill="#ffffff" font-family="Liberation Serif">1.00</text>
<text x="635.64" y="187.66" font-size="5.50" text-anchor="middle" fill="#303030" font-family="Liberation Serif">0.33</text>
<text x="449.08" y="204.53" font-size="5.50" text-anchor="middle" fill="#303030" font-family="Liberation Serif">-0.31</text>
<text x="466.04" y="204.53" font-size="5.50" text-anchor="middle" fill="#ffffff" font-family="Liberation Serif">-0.35</text>
<text x="483.00" y="204.53" font-size="5.50" text-anchor="middle" fill="#ffffff" font-family="Liberation Serif">-0.38</text>
<text x="499.96" y="204.53" font-size="5.50" text-anchor="middle" fill="#303030" font-family="Liberation Serif">0.07</text>
<text x="516.92" y="204.53" font-size="5.50" text-anchor="middle" fill="#303030" font-family="Liberation Serif">-0.05</text>
<text x="533.88" y="204.53" font-size="5.50" text-anchor="middle" fill="#ffffff" font-family="Liberation Serif">-0.45</text>
<text x="550.84" y="204.53" font-size="5.50" text-anchor="middle" fill="#303030" font-family="Liberation Serif">0.09</text>
<text x="567.80" y="204.53" font-size="5.50" text-anchor="middle" fill="#ffffff" font-family="Liberation Serif">-0.40</text>
<text x="584.76" y="204.53" font-size="5.50" text-anchor="middle" fill="#303030" font-family="Liberation Serif">-0.10</text>
<text x="601.72" y="204.53" font-size="5.50" text-anchor="middle" fill="#303030" font-family="Liberation Serif">0.29</text>
<text x="618.68" y="204.53" font-size="5.50" text-anchor="middle" fill="#303030" font-family="Liberation Serif">0.33</text>
<text x="635.64" y="204.53" font-size="5.50" text-anchor="middle" fill="#ffffff" font-family="Liberation Serif">1.00</text>
<text x="439.20" y="19.02" font-size="5.84" text-anchor="end" fill="#262626" textLength="75.23" lengthAdjust="spacingAndGlyphs">Building Footprint Area(m²)</text>
<line x1="441.10" y1="17.04" x2="442.50" y2="17.04" stroke="#333" stroke-width="0.5"/>
<text x="439.20" y="35.90" font-size="5.84" text-anchor="end" fill="#262626" textLength="63.28" lengthAdjust="spacingAndGlyphs">Total Building Area(m²)</text>
<line x1="441.10" y1="33.91" x2="442.50" y2="33.91" stroke="#333" stroke-width="0.5"/>
<text x="439.20" y="52.77" font-size="5.84" text-anchor="end" fill="#262626" textLength="68.31" lengthAdjust="spacingAndGlyphs">Building Height Per Floor</text>
<line x1="441.10" y1="50.79" x2="442.50" y2="50.79" stroke="#333" stroke-width="0.5"/>
<text x="439.20" y="69.65" font-size="5.84" text-anchor="end" fill="#262626" textLength="71.63" lengthAdjust="spacingAndGlyphs">Number of Building Floors</text>
<line x1="441.10" y1="67.66" x2="442.50" y2="67.66" stroke="#333" stroke-width="0.5"/>
<text x="439.20" y="86.52" font-size="5.84" text-anchor="end" fill="#262626" textLength="60.65" lengthAdjust="spacingAndGlyphs">Building Perimeter(m)</text>
<line x1="441.10" y1="84.54" x2="442.50" y2="84.54" stroke="#333" stroke-width="0.5"/>
<text x="439.20" y="103.40" font-size="5.84" text-anchor="end" fill="#262626" textLength="56.39" lengthAdjust="spacingAndGlyphs">Building volume(m³)</text>
<line x1="441.10" y1="101.41" x2="442.50" y2="101.41" stroke="#333" stroke-width="0.5"/>
<text x="439.20" y="120.27" font-size="5.84" text-anchor="end" fill="#262626" textLength="80.48" lengthAdjust="spacingAndGlyphs">Total Number of Hotel Rooms</text>
<line x1="441.10" y1="118.29" x2="442.50" y2="118.29" stroke="#333" stroke-width="0.5"/>
<text x="439.20" y="137.15" font-size="5.84" text-anchor="end" fill="#262626" textLength="68.12" lengthAdjust="spacingAndGlyphs">Average Room Area (m²)</text>
<line x1="441.10" y1="135.16" x2="442.50" y2="135.16" stroke="#333" stroke-width="0.5"/>
<text x="439.20" y="154.02" font-size="5.84" text-anchor="end" fill="#262626" textLength="41.42" lengthAdjust="spacingAndGlyphs">Area/Perimeter</text>
<line x1="441.10" y1="152.04" x2="442.50" y2="152.04" stroke="#333" stroke-width="0.5"/>
<text x="439.20" y="170.90" font-size="5.84" text-anchor="end" fill="#262626" textLength="80.72" lengthAdjust="spacingAndGlyphs">Height/Perimeter*L(3D Ratio)</text>
<line x1="441.10" y1="168.91" x2="442.50" y2="168.91" stroke="#333" stroke-width="0.5"/>
<text x="439.20" y="187.77" font-size="5.84" text-anchor="end" fill="#262626" textLength="66.52" lengthAdjust="spacingAndGlyphs">Height/Area*L(3D Ratio)</text>
<line x1="441.10" y1="185.79" x2="442.50" y2="185.79" stroke="#333" stroke-width="0.5"/>
<text x="439.20" y="204.65" font-size="5.84" text-anchor="end" fill="#262626" textLength="66.51" lengthAdjust="spacingAndGlyphs">Per3DCEIPC (kgCO2/m²)</text>
<line x1="441.10" y1="202.66" x2="442.50" y2="202.66" stroke="#333" stroke-width="0.5"/>
<line x1="449.08" y1="209.30" x2="449.08" y2="210.70" stroke="#333" stroke-width="0.5"/>
<text x="0.00" y="0.00" font-size="5.84" text-anchor="end" fill="#262626" textLength="75.23" lengthAdjust="spacingAndGlyphs" transform="translate(451.06,212.90) rotate(-90)">Building Footprint Area(m²)</text>
<line x1="466.04" y1="209.30" x2="466.04" y2="210.70" stroke="#333" stroke-width="0.5"/>
<text x="0.00" y="0.00" font-size="5.84" text-anchor="end" fill="#262626" textLength="63.28" lengthAdjust="spacingAndGlyphs" transform="translate(468.02,212.90) rotate(-90)">Total Building Area(m²)</text>
<line x1="483.00" y1="209.30" x2="483.00" y2="210.70" stroke="#333" stroke-width="0.5"/>
<text x="0.00" y="0.00" font-size="5.84" text-anchor="end" fill="#262626" textLength="68.31" lengthAdjust="spacingAndGlyphs" transform="translate(484.98,212.90) rotate(-90)">Building Height Per Floor</text>
<line x1="499.96" y1="209.30" x2="499.96" y2="210.70" stroke="#333" stroke-width="0.5"/>
<text x="0.00" y="0.00" font-size="5.84" text-anchor="end" fill="#262626" textLength="71.63" lengthAdjust="spacingAndGlyphs" transform="translate(501.94,212.90) rotate(-90)">Number of Building Floors</text>
<line x1="516.92" y1="209.30" x2="516.92" y2="210.70" stroke="#333" stroke-width="0.5"/>
<text x="0.00" y="0.00" font-size="5.84" text-anchor="end" fill="#262626" textLength="60.65" lengthAdjust="spacingAndGlyphs" transform="translate(518.90,212.90) rotate(-90)">Building Perimeter(m)</text>
<line x1="533.88" y1="209.30" x2="533.88" y2="210.70" stroke="#333" stroke-width="0.5"/>
<text x="0.00" y="0.00" font-size="5.84" text-anchor="end" fill="#262626" textLength="56.39" lengthAdjust="spacingAndGlyphs" transform="translate(535.86,212.90) rotate(-90)">Building volume(m³)</text>
<line x1="550.84" y1="209.30" x2="550.84" y2="210.70" stroke="#333" stroke-width="0.5"/>
<text x="0.00" y="0.00" font-size="5.84" text-anchor="end" fill="#262626" textLength="80.48" lengthAdjust="spacingAndGlyphs" transform="translate(552.82,212.90) rotate(-90)">Total Number of Hotel Rooms</text>
<line x1="567.80" y1="209.30" x2="567.80" y2="210.70" stroke="#333" stroke-width="0.5"/>
<text x="0.00" y="0.00" font-size="5.84" text-anchor="end" fill="#262626" textLength="68.12" lengthAdjust="spacingAndGlyphs" transform="translate(569.78,212.90) rotate(-90)">Average Room Area (m²)</text>
<line x1="584.76" y1="209.30" x2="584.76" y2="210.70" stroke="#333" stroke-width="0.5"/>
<text x="0.00" y="0.00" font-size="5.84" text-anchor="end" fill="#262626" textLength="41.42" lengthAdjust="spacingAndGlyphs" transform="translate(586.74,212.90) rotate(-90)">Area/Perimeter</text>
<line x1="601.72" y1="209.30" x2="601.72" y2="210.70" stroke="#333" stroke-width="0.5"/>
<text x="0.00" y="0.00" font-size="5.84" text-anchor="end" fill="#262626" textLength="80.72" lengthAdjust="spacingAndGlyphs" transform="translate(603.70,212.90) rotate(-90)">Height/Perimeter*L(3D Ratio)</text>
<line x1="618.68" y1="209.30" x2="618.68" y2="210.70" stroke="#333" stroke-width="0.5"/>
<text x="0.00" y="0.00" font-size="5.84" text-anchor="end" fill="#262626" textLength="66.52" lengthAdjust="spacingAndGlyphs" transform="translate(620.66,212.90) rotate(-90)">Height/Area*L(3D Ratio)</text>
<line x1="635.64" y1="209.30" x2="635.64" y2="210.70" stroke="#333" stroke-width="0.5"/>
<text x="0.00" y="0.00" font-size="5.84" text-anchor="end" fill="#262626" textLength="66.51" lengthAdjust="spacingAndGlyphs" transform="translate(637.62,212.90) rotate(-90)">Per3DCEIPC (kgCO2/m²)</text>
<defs><linearGradient id="cbb" x1="0" y1="0" x2="0" y2="1"><stop offset="0.0000" stop-color="#b40426"/><stop offset="0.0312" stop-color="#be242e"/><stop offset="0.0625" stop-color="#ca3b37"/><stop offset="0.0938" stop-color="#d44e41"/><stop offset="0.1250" stop-color="#dd5f4b"/><stop offset="0.1562" stop-color="#e46e56"/><stop offset="0.1875" stop-color="#eb7d62"/><stop offset="0.2188" stop-color="#f08b6e"/><stop offset="0.2500" stop-color="#f4987a"/><stop offset="0.2812" stop-color="#f6a586"/><stop offset="0.3125" stop-color="#f7b093"/><stop offset="0.3438" stop-color="#f7ba9f"/><stop offset="0.3750" stop-color="#f5c4ac"/><stop offset="0.4062" stop-color="#f1ccb8"/><stop offset="0.4375" stop-color="#ecd3c5"/><stop offset="0.4688" stop-color="#e5d8d1"/><stop offset="0.5000" stop-color="#dddcdc"/><stop offset="0.5312" stop-color="#d5dbe5"/><stop offset="0.5625" stop-color="#ccd9ed"/><stop offset="0.5938" stop-color="#c3d5f4"/><stop offset="0.6250" stop-color="#b9d0f9"/><stop offset="0.6562" stop-color="#aec9fc"/><stop offset="0.6875" stop-color="#a3c2fe"/><stop offset="0.7188" stop-color="#98b9ff"/><stop offset="0.7500" stop-color="#8db0fe"/><stop offset="0.7812" stop-color="#82a6fb"/><stop offset="0.8125" stop-color="#779af7"/><stop offset="0.8438" stop-color="#6c8ff1"/><stop offset="0.8750" stop-color="#6282ea"/><stop offset="0.9062" stop-color="#5875e1"/><stop offset="0.9375" stop-color="#4e68d8"/><stop offset="0.9688" stop-color="#445acc"/><stop offset="1.0000" stop-color="#3b4cc0"/></linearGradient></defs>
<rect x="656.90" y="8.70" width="9.90" height="201.90" fill="url(#cbb)"/>
<line x1="666.80" y1="8.70" x2="668.40" y2="8.70" stroke="#333" stroke-width="0.5"/>
<text x="668.80" y="10.79" font-size="6.15" text-anchor="start" fill="#262626" textLength="9.22" lengthAdjust="spacingAndGlyphs">1.0</text>
<line x1="666.80" y1="32.18" x2="668.40" y2="32.18" stroke="#333" stroke-width="0.5"/>
<text x="668.80" y="34.26" font-size="6.15" text-anchor="start" fill="#262626" textLength="9.22" lengthAdjust="spacingAndGlyphs">0.8</text>
<line x1="666.80" y1="55.65" x2="668.40" y2="55.65" stroke="#333" stroke-width="0.5"/>
<text x="668.80" y="57.74" font-size="6.15" text-anchor="start" fill="#262626" textLength="9.22" lengthAdjust="spacingAndGlyphs">0.6</text>
<line x1="666.80" y1="79.13" x2="668.40" y2="79.13" stroke="#333" stroke-width="0.5"/>
<text x="668.80" y="81.22" font-size="6.15" text-anchor="start" fill="#262626" textLength="9.22" lengthAdjust="spacingAndGlyphs">0.4</text>
<line x1="666.80" y1="102.61" x2="668.40" y2="102.61" stroke="#333" stroke-width="0.5"/>
<text x="668.80" y="104.69" font-size="6.15" text-anchor="start" fill="#262626" textLength="9.22" lengthAdjust="spacingAndGlyphs">0.2</text>
<line x1="666.80" y1="126.08" x2="668.40" y2="126.08" stroke="#333" stroke-width="0.5"/>
<text x="668.80" y="128.17" font-size="6.15" text-anchor="start" fill="#262626" textLength="9.22" lengthAdjust="spacingAndGlyphs">0.0</text>
<line x1="666.80" y1="149.56" x2="668.40" y2="149.56" stroke="#333" stroke-width="0.5"/>
<text x="668.80" y="151.65" font-size="6.15" text-anchor="start" fill="#262626" textLength="14.08" lengthAdjust="spacingAndGlyphs">−0.2</text>
<line x1="666.80" y1="173.04" x2="668.40" y2="173.04" stroke="#333" stroke-width="0.5"/>
<text x="668.80" y="175.13" font-size="6.15" text-anchor="start" fill="#262626" textLength="14.08" lengthAdjust="spacingAndGlyphs">−0.4</text>
<line x1="666.80" y1="196.51" x2="668.40" y2="196.51" stroke="#333" stroke-width="0.5"/>
<text x="668.80" y="198.60" font-size="6.15" text-anchor="start" fill="#262626" textLength="14.08" lengthAdjust="spacingAndGlyphs">−0.6</text>
<text x="421.90" y="6.10" font-size="7.72" text-anchor="start" fill="#262626" textLength="6.94" lengthAdjust="spacingAndGlyphs">b.</text>
<text x="432.80" y="6.10" font-size="7.72" text-anchor="start" fill="#262626" textLength="219.78" lengthAdjust="spacingAndGlyphs">Correlation Heatmap for Building Attributes and Per3DCEIPC</text>
<circle cx="146.00" cy="469.60" r="7.22" fill="none" stroke="#dadada" stroke-width="0.45" stroke-dasharray="1.4,0.5"/>
<circle cx="146.00" cy="469.60" r="22.46" fill="none" stroke="#dadada" stroke-width="0.45" stroke-dasharray="1.4,0.5"/>
<circle cx="146.00" cy="469.60" r="37.70" fill="none" stroke="#dadada" stroke-width="0.45" stroke-dasharray="1.4,0.5"/>
<circle cx="146.00" cy="469.60" r="52.94" fill="none" stroke="#dadada" stroke-width="0.45" stroke-dasharray="1.4,0.5"/>
<circle cx="146.00" cy="469.60" r="68.18" fill="none" stroke="#dadada" stroke-width="0.45" stroke-dasharray="1.4,0.5"/>
<circle cx="146.00" cy="469.60" r="83.42" fill="none" stroke="#dadada" stroke-width="0.45" stroke-dasharray="1.4,0.5"/>
<circle cx="146.00" cy="469.60" r="98.66" fill="none" stroke="#dadada" stroke-width="0.45" stroke-dasharray="1.4,0.5"/>
<line x1="146.00" y1="469.60" x2="251.00" y2="469.60" stroke="#dadada" stroke-width="0.45" stroke-dasharray="1.4,0.5"/>
<line x1="146.00" y1="469.60" x2="241.92" y2="426.89" stroke="#dadada" stroke-width="0.45" stroke-dasharray="1.4,0.5"/>
<line x1="146.00" y1="469.60" x2="216.26" y2="391.57" stroke="#dadada" stroke-width="0.45" stroke-dasharray="1.4,0.5"/>
<line x1="146.00" y1="469.60" x2="178.45" y2="369.74" stroke="#dadada" stroke-width="0.45" stroke-dasharray="1.4,0.5"/>
<line x1="146.00" y1="469.60" x2="135.02" y2="365.18" stroke="#dadada" stroke-width="0.45" stroke-dasharray="1.4,0.5"/>
<line x1="146.00" y1="469.60" x2="93.50" y2="378.67" stroke="#dadada" stroke-width="0.45" stroke-dasharray="1.4,0.5"/>
<line x1="146.00" y1="469.60" x2="61.05" y2="407.88" stroke="#dadada" stroke-width="0.45" stroke-dasharray="1.4,0.5"/>
<line x1="146.00" y1="469.60" x2="43.29" y2="447.77" stroke="#dadada" stroke-width="0.45" stroke-dasharray="1.4,0.5"/>
<line x1="146.00" y1="469.60" x2="43.29" y2="491.43" stroke="#dadada" stroke-width="0.45" stroke-dasharray="1.4,0.5"/>
<line x1="146.00" y1="469.60" x2="61.05" y2="531.32" stroke="#dadada" stroke-width="0.45" stroke-dasharray="1.4,0.5"/>
<line x1="146.00" y1="469.60" x2="93.50" y2="560.53" stroke="#dadada" stroke-width="0.45" stroke-dasharray="1.4,0.5"/>
<line x1="146.00" y1="469.60" x2="135.02" y2="574.02" stroke="#dadada" stroke-width="0.45" stroke-dasharray="1.4,0.5"/>
<line x1="146.00" y1="469.60" x2="178.45" y2="569.46" stroke="#dadada" stroke-width="0.45" stroke-dasharray="1.4,0.5"/>
<line x1="146.00" y1="469.60" x2="216.26" y2="547.63" stroke="#dadada" stroke-width="0.45" stroke-dasharray="1.4,0.5"/>
<line x1="146.00" y1="469.60" x2="241.92" y2="512.31" stroke="#dadada" stroke-width="0.45" stroke-dasharray="1.4,0.5"/>
<polygon points="245.00,469.60 212.69,439.91 190.50,420.18 164.02,414.15 140.31,415.50 119.60,423.87 107.33,441.50 108.73,461.68 113.33,476.54 126.91,483.47 135.40,487.96 144.03,488.30 150.79,484.34 154.36,478.89 154.31,473.30" fill="#add8e6" fill-opacity="0.25" stroke="none"/>
<polygon points="245.00,469.60 212.69,439.91 190.50,420.18 164.02,414.15 140.31,415.50 119.60,423.87 107.33,441.50 108.73,461.68 113.33,476.54 126.91,483.47 135.40,487.96 144.03,488.30 150.79,484.34 154.36,478.89 154.31,473.30" fill="none" stroke="#9ccbe2" stroke-width="1.1" stroke-linejoin="round"/>
<polygon points="245.00,469.60 203.37,444.06 186.68,424.42 164.02,414.15 141.22,424.15 124.10,431.67 114.53,446.74 111.86,462.34 112.65,476.69 120.76,487.94 138.90,481.90 144.67,482.23 149.18,479.40 151.75,475.99 150.66,471.67" fill="#90ee90" fill-opacity="0.25" stroke="none"/>
<polygon points="245.00,469.60 203.37,444.06 186.68,424.42 164.02,414.15 141.22,424.15 124.10,431.67 114.53,446.74 111.86,462.34 112.65,476.69 120.76,487.94 138.90,481.90 144.67,482.23 149.18,479.40 151.75,475.99 150.66,471.67" fill="none" stroke="#84e484" stroke-width="1.3" stroke-linejoin="round"/>
<circle cx="146.00" cy="469.60" r="105.00" fill="none" stroke="#222" stroke-width="0.8"/>
<circle cx="146.00" cy="469.60" r="0.8" fill="#888"/>
<text x="256.40" y="471.46" font-size="5.49" text-anchor="middle" fill="#262626" textLength="62.53" lengthAdjust="spacingAndGlyphs">Per3DCEIPC (kgCO2/m²)</text>
<text x="246.86" y="426.56" font-size="5.49" text-anchor="middle" fill="#262626" textLength="62.53" lengthAdjust="spacingAndGlyphs">Height/Area*L(3D Ratio)</text>
<text x="219.87" y="389.42" font-size="5.49" text-anchor="middle" fill="#262626" textLength="2.89" lengthAdjust="spacingAndGlyphs">L</text>
<text x="180.12" y="366.47" font-size="5.49" text-anchor="middle" fill="#262626" textLength="75.89" lengthAdjust="spacingAndGlyphs">Height/Perimeter*L(3D Ratio)</text>
<text x="134.46" y="361.67" font-size="5.49" text-anchor="middle" fill="#262626" textLength="67.34" lengthAdjust="spacingAndGlyphs">Number of Building Floors</text>
<text x="90.80" y="375.86" font-size="5.49" text-anchor="middle" fill="#262626" textLength="57.02" lengthAdjust="spacingAndGlyphs">Building Perimeter(m)</text>
<text x="56.68" y="406.57" font-size="5.49" text-anchor="middle" fill="#262626" textLength="62.61" lengthAdjust="spacingAndGlyphs">Building Total Height(m)</text>
<text x="38.01" y="448.51" font-size="5.49" text-anchor="middle" fill="#262626" textLength="75.66" lengthAdjust="spacingAndGlyphs">Total Number of Hotel Rooms</text>
<text x="38.01" y="494.42" font-size="5.49" text-anchor="middle" fill="#262626" textLength="54.87" lengthAdjust="spacingAndGlyphs">Total Room Area (m²)</text>
<text x="56.68" y="536.36" font-size="5.49" text-anchor="middle" fill="#262626" textLength="59.49" lengthAdjust="spacingAndGlyphs">Total Building Area(m²)</text>
<text x="90.80" y="567.07" font-size="5.49" text-anchor="middle" fill="#262626" textLength="64.04" lengthAdjust="spacingAndGlyphs">Average Room Area (m²)</text>
<text x="134.46" y="581.26" font-size="5.49" text-anchor="middle" fill="#262626" textLength="38.93" lengthAdjust="spacingAndGlyphs">Area/Perimeter</text>
<text x="180.12" y="576.46" font-size="5.49" text-anchor="middle" fill="#262626" textLength="53.01" lengthAdjust="spacingAndGlyphs">Building volume(m³)</text>
<text x="219.87" y="553.51" font-size="5.49" text-anchor="middle" fill="#262626" textLength="70.72" lengthAdjust="spacingAndGlyphs">Building Footprint Area(m²)</text>
<text x="246.86" y="516.37" font-size="5.49" text-anchor="middle" fill="#262626" textLength="64.22" lengthAdjust="spacingAndGlyphs">Building Height Per Floor</text>
<rect x="188.3" y="367.2" width="59.4" height="20.2" rx="1" fill="#fff" fill-opacity="0.85" stroke="#d6d6d6" stroke-width="0.5"/>
<line x1="190.2" y1="372.3" x2="204.2" y2="372.3" stroke="#add8e6" stroke-width="1.2"/>
<line x1="190.2" y1="381.8" x2="204.2" y2="381.8" stroke="#90ee90" stroke-width="1.8"/>
<text x="209.20" y="374.50" font-size="6.47" text-anchor="start" fill="#262626" textLength="36.73" lengthAdjust="spacingAndGlyphs">Per3DCEICC</text>
<text x="209.20" y="384.00" font-size="6.47" text-anchor="start" fill="#262626" textLength="36.15" lengthAdjust="spacingAndGlyphs">Per3DCEIPC</text>
<text x="30.3" y="354.6" font-size="7.6" font-family="Liberation Serif" fill="#262626">c.</text>
<text x="40.80" y="354.40" font-size="7.84" text-anchor="start" fill="#262626" textLength="211.50" lengthAdjust="spacingAndGlyphs">Radar Chart: Correlation with Per3DCEICC and Per3DCEIPC</text>
<defs><marker id="ar" viewBox="0 0 6 4" refX="6" refY="2" markerWidth="6" markerHeight="4" markerUnits="userSpaceOnUse" orient="auto-start-reverse"><path d="M0,0.6 L6,2 L0,3.4 z" fill="#444"/></marker><marker id="as" viewBox="0 0 6 4" refX="6" refY="2" markerWidth="3" markerHeight="2" markerUnits="userSpaceOnUse" orient="auto-start-reverse"><path d="M0,0.6 L6,2 L0,3.4 z" fill="#444"/></marker></defs>
<rect x="321.50" y="305.40" width="362.90" height="125.70" fill="none" stroke="#8c8c8c" stroke-width="1"/>
<line x1="394.08" y1="305.40" x2="394.08" y2="431.10" stroke="#8c8c8c" stroke-width="1"/>
<line x1="466.66" y1="305.40" x2="466.66" y2="431.10" stroke="#8c8c8c" stroke-width="1"/>
<line x1="539.24" y1="305.40" x2="539.24" y2="431.10" stroke="#8c8c8c" stroke-width="1"/>
<line x1="611.82" y1="305.40" x2="611.82" y2="431.10" stroke="#8c8c8c" stroke-width="1"/>
<line x1="321.50" y1="368.25" x2="684.40" y2="368.25" stroke="#8c8c8c" stroke-width="1"/>
<rect x="321.40" y="453.10" width="362.60" height="127.40" fill="none" stroke="#9a9a9a" stroke-width="1"/>
<line x1="393.92" y1="453.10" x2="393.92" y2="580.50" stroke="#9a9a9a" stroke-width="1"/>
<line x1="466.44" y1="453.10" x2="466.44" y2="580.50" stroke="#9a9a9a" stroke-width="1"/>
<line x1="538.96" y1="453.10" x2="538.96" y2="580.50" stroke="#9a9a9a" stroke-width="1"/>
<line x1="611.48" y1="453.10" x2="611.48" y2="580.50" stroke="#9a9a9a" stroke-width="1"/>
<line x1="321.40" y1="516.80" x2="684.00" y2="516.80" stroke="#9a9a9a" stroke-width="1"/>
<text x="439" y="300" font-size="8.6" font-family="Liberation Serif" fill="#1a1a1a">d.</text>
<text x="450.4" y="300" font-size="8.6" font-family="Liberation Serif" fill="#1a1a1a" textLength="67.6" lengthAdjust="spacingAndGlyphs">Top 10 Per3DCEICC</text>
<text x="445.3" y="451.6" font-size="8.2" font-family="Liberation Serif" fill="#1a1a1a">e.</text>
<text x="455.1" y="451.6" font-size="8.2" font-family="Liberation Serif" fill="#1a1a1a" textLength="65.7" lengthAdjust="spacingAndGlyphs">Top 10 Per3DCEIPC</text>
<polygon points="335.60,330.50 360.80,330.50 360.80,317.30 371.00,317.30 371.00,330.50 382.60,343.50 386.70,347.70 385.30,349.50 365.50,349.50 364.40,345.70 335.60,345.70" fill="none" stroke="#b4b4b4" stroke-width="0.80" stroke-linejoin="round"/>
<line x1="335.60" y1="313.90" x2="335.60" y2="354.90" stroke="#9a9a9a" stroke-width="0.35"/>
<line x1="360.80" y1="313.90" x2="360.80" y2="317.30" stroke="#9a9a9a" stroke-width="0.35"/>
<line x1="371.00" y1="313.90" x2="371.00" y2="317.30" stroke="#9a9a9a" stroke-width="0.35"/>
<line x1="335.60" y1="315.40" x2="360.80" y2="315.40" stroke="#555555" stroke-width="0.45" marker-start="url(#as)" marker-end="url(#as)"/>
<line x1="360.80" y1="315.40" x2="371.00" y2="315.40" stroke="#555555" stroke-width="0.45" marker-start="url(#as)" marker-end="url(#as)"/>
<text transform="translate(348.30,313.20) rotate(0.0)" x="0" y="1.62" font-size="4.50" text-anchor="middle" fill="#262626">20</text>
<text transform="translate(365.70,313.00) rotate(0.0)" x="0" y="1.62" font-size="4.50" text-anchor="middle" fill="#262626">8</text>
<line x1="330.50" y1="330.50" x2="335.60" y2="330.50" stroke="#9a9a9a" stroke-width="0.35"/>
<line x1="330.50" y1="345.70" x2="335.60" y2="345.70" stroke="#9a9a9a" stroke-width="0.35"/>
<line x1="331.80" y1="330.50" x2="331.80" y2="345.70" stroke="#555555" stroke-width="0.45" marker-start="url(#as)" marker-end="url(#as)"/>
<text transform="translate(328.70,337.80) rotate(-90.0)" x="0" y="1.62" font-size="4.50" text-anchor="middle" fill="#262626">12</text>
<line x1="376.00" y1="329.00" x2="385.80" y2="340.80" stroke="#555555" stroke-width="0.45" marker-start="url(#as)" marker-end="url(#as)"/>
<text transform="translate(381.80,334.10) rotate(50.0)" x="0" y="1.62" font-size="4.50" text-anchor="middle" fill="#262626">13</text>
<line x1="364.40" y1="345.70" x2="364.40" y2="354.90" stroke="#9a9a9a" stroke-width="0.35"/>
<line x1="365.50" y1="349.50" x2="365.50" y2="354.90" stroke="#9a9a9a" stroke-width="0.35"/>
<line x1="384.50" y1="349.50" x2="384.50" y2="354.90" stroke="#9a9a9a" stroke-width="0.35"/>
<line x1="335.60" y1="353.40" x2="364.40" y2="353.40" stroke="#555555" stroke-width="0.45" marker-start="url(#as)" marker-end="url(#as)"/>
<line x1="365.50" y1="353.40" x2="384.50" y2="353.40" stroke="#555555" stroke-width="0.45" marker-start="url(#as)" marker-end="url(#as)"/>
<text transform="translate(349.50,351.30) rotate(0.0)" x="0" y="1.62" font-size="4.50" text-anchor="middle" fill="#262626">22</text>
<text transform="translate(374.90,351.70) rotate(0.0)" x="0" y="1.62" font-size="4.50" text-anchor="middle" fill="#262626">14</text>
<text x="358.00" y="367.40" font-size="5.12" text-anchor="middle" fill="#4a4a55" textLength="33.60" lengthAdjust="spacingAndGlyphs">TOP 1, Form F</text>
<path transform="translate(394.08,305.40)" d="M12.3,14.1 L56.6,14.1 Q60.5,14.3 61.6,16.5 L15.9,44 L12.3,41.2 Z" fill="none" stroke="#b4b4b4" stroke-width="0.80"/>
<line x1="406.38" y1="314.90" x2="406.38" y2="319.50" stroke="#9a9a9a" stroke-width="0.35"/>
<line x1="450.68" y1="314.90" x2="450.68" y2="319.50" stroke="#9a9a9a" stroke-width="0.35"/>
<line x1="406.38" y1="316.40" x2="450.68" y2="316.40" stroke="#555555" stroke-width="0.45" marker-start="url(#as)" marker-end="url(#as)"/>
<text transform="translate(427.58,314.70) rotate(0.0)" x="0" y="1.30" font-size="3.60" text-anchor="middle" fill="#262626">44</text>
<line x1="403.08" y1="319.50" x2="406.38" y2="319.50" stroke="#9a9a9a" stroke-width="0.35"/>
<line x1="404.48" y1="319.50" x2="404.48" y2="345.50" stroke="#555555" stroke-width="0.45" marker-start="url(#as)" marker-end="url(#as)"/>
<text transform="translate(401.38,332.90) rotate(-90.0)" x="0" y="1.30" font-size="3.60" text-anchor="middle" fill="#262626">25</text>
<line x1="413.28" y1="352.70" x2="460.08" y2="328.50" stroke="#555555" stroke-width="0.45" marker-start="url(#as)" marker-end="url(#as)"/>
<text transform="translate(435.08,339.40) rotate(-27.0)" x="0" y="1.30" font-size="3.60" text-anchor="middle" fill="#262626">52</text>
<line x1="409.98" y1="349.40" x2="412.48" y2="353.40" stroke="#9a9a9a" stroke-width="0.35"/>
<line x1="455.68" y1="321.90" x2="460.68" y2="329.20" stroke="#9a9a9a" stroke-width="0.35"/>
<path transform="translate(394.08,305.40)" d="M60.5,17 L52,22" fill="none" stroke="#555555" stroke-width="0.40"/>
<text transform="translate(448.08,326.00) rotate(-30.0)" x="0" y="1.30" font-size="3.60" text-anchor="middle" fill="#262626">R5</text>
<path transform="translate(394.08,305.40)" d="M8.7,47.2 L15.3,41" fill="none" stroke="#555555" stroke-width="0.40"/>
<text transform="translate(402.08,354.40) rotate(-50.0)" x="0" y="1.30" font-size="3.60" text-anchor="middle" fill="#262626">R5</text>
<text x="430.58" y="367.40" font-size="5.12" text-anchor="middle" fill="#4a4a55" textLength="33.60" lengthAdjust="spacingAndGlyphs">TOP 2, Form D</text>
<polygon points="475.66,320.80 484.76,320.80 484.76,328.50 489.76,332.90 530.96,332.90 530.96,344.80 486.96,344.80 475.46,334.20" fill="none" stroke="#b4b4b4" stroke-width="0.80" stroke-linejoin="round"/>
<line x1="475.66" y1="316.90" x2="475.66" y2="320.80" stroke="#9a9a9a" stroke-width="0.35"/>
<line x1="484.76" y1="316.90" x2="484.76" y2="320.80" stroke="#9a9a9a" stroke-width="0.35"/>
<line x1="475.66" y1="318.60" x2="484.76" y2="318.60" stroke="#555555" stroke-width="0.45" marker-start="url(#as)" marker-end="url(#as)"/>
<text transform="translate(480.36,316.60) rotate(0.0)" x="0" y="1.44" font-size="4.00" text-anchor="middle" fill="#262626">9</text>
<line x1="489.76" y1="329.40" x2="489.76" y2="332.90" stroke="#9a9a9a" stroke-width="0.35"/>
<line x1="530.96" y1="329.40" x2="530.96" y2="351.40" stroke="#9a9a9a" stroke-width="0.35"/>
<line x1="489.76" y1="330.70" x2="530.96" y2="330.70" stroke="#555555" stroke-width="0.45" marker-start="url(#as)" marker-end="url(#as)"/>
<text transform="translate(510.06,328.80) rotate(0.0)" x="0" y="1.44" font-size="4.00" text-anchor="middle" fill="#262626">39</text>
<line x1="530.96" y1="332.90" x2="537.16" y2="332.90" stroke="#9a9a9a" stroke-width="0.35"/>
<line x1="530.96" y1="344.80" x2="537.16" y2="344.80" stroke="#9a9a9a" stroke-width="0.35"/>
<line x1="535.96" y1="332.90" x2="535.96" y2="344.80" stroke="#555555" stroke-width="0.45" marker-start="url(#as)" marker-end="url(#as)"/>
<text transform="translate(533.76,338.90) rotate(-90.0)" x="0" y="1.44" font-size="4.00" text-anchor="middle" fill="#262626">11</text>
<line x1="486.96" y1="344.80" x2="486.96" y2="351.40" stroke="#9a9a9a" stroke-width="0.35"/>
<line x1="486.96" y1="349.90" x2="530.96" y2="349.90" stroke="#555555" stroke-width="0.45" marker-start="url(#as)" marker-end="url(#as)"/>
<text transform="translate(508.46,347.90) rotate(0.0)" x="0" y="1.44" font-size="4.00" text-anchor="middle" fill="#262626">41</text>
<line x1="471.66" y1="337.00" x2="483.36" y2="348.60" stroke="#555555" stroke-width="0.45" marker-start="url(#as)" marker-end="url(#as)"/>
<text transform="translate(478.06,341.90) rotate(45.0)" x="0" y="1.44" font-size="4.00" text-anchor="middle" fill="#262626">15</text>
<text x="503.16" y="367.40" font-size="5.12" text-anchor="middle" fill="#4a4a55" textLength="33.60" lengthAdjust="spacingAndGlyphs">TOP 3, Form B</text>
<polygon points="547.14,329.40 594.74,329.40 594.74,348.80 547.14,348.80" fill="none" stroke="#8a8a8a" stroke-width="0.80" stroke-linejoin="round"/>
<line x1="547.14" y1="322.40" x2="547.14" y2="329.40" stroke="#9a9a9a" stroke-width="0.35"/>
<line x1="594.74" y1="322.40" x2="594.74" y2="329.40" stroke="#9a9a9a" stroke-width="0.35"/>
<line x1="547.14" y1="324.30" x2="594.74" y2="324.30" stroke="#555555" stroke-width="0.45" marker-start="url(#ar)" marker-end="url(#ar)"/>
<text transform="translate(570.54,321.30) rotate(0.0)" x="0" y="2.45" font-size="6.80" text-anchor="middle" fill="#222">27</text>
<line x1="595.74" y1="329.40" x2="607.74" y2="329.40" stroke="#9a9a9a" stroke-width="0.35"/>
<line x1="595.74" y1="348.80" x2="607.74" y2="348.80" stroke="#9a9a9a" stroke-width="0.35"/>
<line x1="605.24" y1="329.40" x2="605.24" y2="348.80" stroke="#555555" stroke-width="0.45" marker-start="url(#ar)" marker-end="url(#ar)"/>
<text transform="translate(602.14,339.40) rotate(-90.0)" x="0" y="2.45" font-size="6.80" text-anchor="middle" fill="#222">11</text>
<text x="575.74" y="367.40" font-size="5.12" text-anchor="middle" fill="#4a4a55" textLength="33.60" lengthAdjust="spacingAndGlyphs">TOP 4, Form A</text>
<polygon points="620.02,317.70 673.92,317.70 673.92,359.80 659.32,359.80 659.32,325.70 647.22,325.70 647.22,331.90 640.32,331.90 640.32,339.90 620.02,339.90" fill="none" stroke="#b4b4b4" stroke-width="0.80" stroke-linejoin="round"/>
<line x1="620.02" y1="310.40" x2="620.02" y2="317.70" stroke="#9a9a9a" stroke-width="0.35"/>
<line x1="673.92" y1="310.40" x2="673.92" y2="317.70" stroke="#9a9a9a" stroke-width="0.35"/>
<line x1="620.02" y1="312.10" x2="673.92" y2="312.10" stroke="#555555" stroke-width="0.45" marker-start="url(#as)" marker-end="url(#as)"/>
<text transform="translate(647.02,310.40) rotate(0.0)" x="0" y="1.37" font-size="3.80" text-anchor="middle" fill="#262626">46</text>
<line x1="673.92" y1="317.70" x2="682.82" y2="317.70" stroke="#9a9a9a" stroke-width="0.35"/>
<line x1="673.92" y1="359.80" x2="682.82" y2="359.80" stroke="#9a9a9a" stroke-width="0.35"/>
<line x1="681.32" y1="317.70" x2="681.32" y2="359.80" stroke="#555555" stroke-width="0.45" marker-start="url(#as)" marker-end="url(#as)"/>
<text transform="translate(678.52,338.40) rotate(-90.0)" x="0" y="1.37" font-size="3.80" text-anchor="middle" fill="#262626">36</text>
<line x1="654.82" y1="325.70" x2="659.32" y2="325.70" stroke="#9a9a9a" stroke-width="0.35"/>
<line x1="654.82" y1="359.80" x2="659.32" y2="359.80" stroke="#9a9a9a" stroke-width="0.35"/>
<line x1="656.22" y1="325.70" x2="656.22" y2="359.80" stroke="#555555" stroke-width="0.45" marker-start="url(#as)" marker-end="url(#as)"/>
<text transform="translate(653.22,342.80) rotate(-90.0)" x="0" y="1.37" font-size="3.80" text-anchor="middle" fill="#262626">25</text>
<line x1="647.22" y1="321.90" x2="647.22" y2="325.70" stroke="#9a9a9a" stroke-width="0.35"/>
<line x1="659.32" y1="321.90" x2="659.32" y2="325.70" stroke="#9a9a9a" stroke-width="0.35"/>
<line x1="647.22" y1="323.50" x2="659.32" y2="323.50" stroke="#555555" stroke-width="0.45" marker-start="url(#as)" marker-end="url(#as)"/>
<text transform="translate(653.02,321.70) rotate(0.0)" x="0" y="1.37" font-size="3.80" text-anchor="middle" fill="#262626">10</text>
<line x1="636.32" y1="328.70" x2="640.32" y2="328.70" stroke="#555555" stroke-width="0.45" marker-end="url(#as)"/>
<line x1="651.22" y1="328.70" x2="647.22" y2="328.70" stroke="#555555" stroke-width="0.45" marker-end="url(#as)"/>
<line x1="640.32" y1="328.70" x2="647.22" y2="328.70" stroke="#9a9a9a" stroke-width="0.35"/>
<text transform="translate(643.72,327.00) rotate(0.0)" x="0" y="1.37" font-size="3.80" text-anchor="middle" fill="#262626">6</text>
<line x1="620.02" y1="335.80" x2="640.32" y2="335.80" stroke="#555555" stroke-width="0.45" marker-start="url(#as)" marker-end="url(#as)"/>
<text transform="translate(630.52,333.80) rotate(0.0)" x="0" y="1.37" font-size="3.80" text-anchor="middle" fill="#262626">17</text>
<line x1="647.22" y1="331.90" x2="648.82" y2="331.90" stroke="#9a9a9a" stroke-width="0.35"/>
<line x1="640.32" y1="339.90" x2="648.82" y2="339.90" stroke="#9a9a9a" stroke-width="0.35"/>
<line x1="647.62" y1="331.90" x2="647.62" y2="339.90" stroke="#555555" stroke-width="0.45" marker-start="url(#as)" marker-end="url(#as)"/>
<text transform="translate(644.32,336.00) rotate(-90.0)" x="0" y="1.37" font-size="3.80" text-anchor="middle" fill="#262626">7</text>
<text x="648.32" y="367.40" font-size="5.12" text-anchor="middle" fill="#4a4a55" textLength="33.60" lengthAdjust="spacingAndGlyphs">TOP 5, Form B</text>
<path transform="translate(321.50,368.25)" d="M9.3,25.5 L56.6,25.5 A11.8,11.9 0 0 1 68.4,37.4 L9.3,37.4 Z" fill="none" stroke="#b4b4b4" stroke-width="0.80"/>
<line x1="330.80" y1="389.75" x2="330.80" y2="393.75" stroke="#9a9a9a" stroke-width="0.35"/>
<line x1="378.10" y1="389.75" x2="378.10" y2="393.75" stroke="#9a9a9a" stroke-width="0.35"/>
<line x1="330.80" y1="391.15" x2="378.10" y2="391.15" stroke="#555555" stroke-width="0.45" marker-start="url(#as)" marker-end="url(#as)"/>
<text transform="translate(354.50,389.25) rotate(0.0)" x="0" y="1.30" font-size="3.60" text-anchor="middle" fill="#262626">46</text>
<line x1="326.50" y1="393.75" x2="330.80" y2="393.75" stroke="#9a9a9a" stroke-width="0.35"/>
<line x1="326.50" y1="405.65" x2="330.80" y2="405.65" stroke="#9a9a9a" stroke-width="0.35"/>
<line x1="327.90" y1="393.75" x2="327.90" y2="405.65" stroke="#555555" stroke-width="0.45" marker-start="url(#as)" marker-end="url(#as)"/>
<text transform="translate(325.40,399.85) rotate(-90.0)" x="0" y="1.30" font-size="3.60" text-anchor="middle" fill="#262626">12</text>
<line x1="378.10" y1="401.75" x2="378.10" y2="405.65" stroke="#9a9a9a" stroke-width="0.35"/>
<line x1="378.10" y1="403.65" x2="389.90" y2="403.65" stroke="#555555" stroke-width="0.45" marker-start="url(#as)" marker-end="url(#as)"/>
<text transform="translate(383.80,402.25) rotate(0.0)" x="0" y="1.37" font-size="3.80" text-anchor="middle" fill="#262626">12</text>
<text x="358.00" y="430.25" font-size="5.12" text-anchor="middle" fill="#4a4a55" textLength="33.60" lengthAdjust="spacingAndGlyphs">TOP 6, Form C</text>
<polygon points="412.18,378.35 444.68,378.35 444.68,382.55 452.88,382.55 452.88,412.75 408.88,412.75 408.88,394.65 416.08,394.65 416.08,388.05 412.18,388.05" fill="none" stroke="#b4b4b4" stroke-width="0.80" stroke-linejoin="round"/>
<polygon points="423.58,386.35 435.68,386.35 435.68,394.65 423.58,394.65" fill="none" stroke="#b4b4b4" stroke-width="0.80" stroke-linejoin="round"/>
<line x1="412.18" y1="373.25" x2="412.18" y2="378.35" stroke="#9a9a9a" stroke-width="0.35"/>
<line x1="444.68" y1="373.25" x2="444.68" y2="378.35" stroke="#9a9a9a" stroke-width="0.35"/>
<line x1="412.18" y1="374.85" x2="444.68" y2="374.85" stroke="#555555" stroke-width="0.45" marker-start="url(#as)" marker-end="url(#as)"/>
<text transform="translate(428.18,373.05) rotate(0.0)" x="0" y="1.62" font-size="4.50" text-anchor="middle" fill="#262626">26</text>
<line x1="404.08" y1="378.35" x2="412.18" y2="378.35" stroke="#9a9a9a" stroke-width="0.35"/>
<line x1="404.08" y1="388.05" x2="412.18" y2="388.05" stroke="#9a9a9a" stroke-width="0.35"/>
<line x1="404.08" y1="394.65" x2="408.88" y2="394.65" stroke="#9a9a9a" stroke-width="0.35"/>
<line x1="404.08" y1="412.75" x2="408.88" y2="412.75" stroke="#9a9a9a" stroke-width="0.35"/>
<line x1="405.58" y1="378.35" x2="405.58" y2="388.05" stroke="#555555" stroke-width="0.45" marker-start="url(#as)" marker-end="url(#as)"/>
<text transform="translate(402.48,383.15) rotate(-90.0)" x="0" y="1.62" font-size="4.50" text-anchor="middle" fill="#262626">8</text>
<line x1="405.58" y1="394.65" x2="405.58" y2="412.75" stroke="#555555" stroke-width="0.45" marker-start="url(#as)" marker-end="url(#as)"/>
<text transform="translate(402.48,403.55) rotate(-90.0)" x="0" y="1.62" font-size="4.50" text-anchor="middle" fill="#262626">14</text>
<line x1="423.58" y1="383.25" x2="423.58" y2="386.35" stroke="#9a9a9a" stroke-width="0.35"/>
<line x1="435.68" y1="383.25" x2="435.68" y2="386.35" stroke="#9a9a9a" stroke-width="0.35"/>
<line x1="423.58" y1="384.75" x2="435.68" y2="384.75" stroke="#555555" stroke-width="0.45" marker-start="url(#as)" marker-end="url(#as)"/>
<text transform="translate(429.58,382.75) rotate(0.0)" x="0" y="1.62" font-size="4.50" text-anchor="middle" fill="#262626">10</text>
<line x1="435.68" y1="386.35" x2="440.58" y2="386.35" stroke="#9a9a9a" stroke-width="0.35"/>
<line x1="435.68" y1="394.65" x2="440.58" y2="394.65" stroke="#9a9a9a" stroke-width="0.35"/>
<line x1="439.18" y1="386.35" x2="439.18" y2="394.65" stroke="#555555" stroke-width="0.45" marker-start="url(#as)" marker-end="url(#as)"/>
<text transform="translate(436.58,390.65) rotate(-90.0)" x="0" y="1.62" font-size="4.50" text-anchor="middle" fill="#262626">6</text>
<line x1="452.88" y1="382.55" x2="459.58" y2="382.55" stroke="#9a9a9a" stroke-width="0.35"/>
<line x1="452.88" y1="412.75" x2="459.58" y2="412.75" stroke="#9a9a9a" stroke-width="0.35"/>
<line x1="457.88" y1="382.55" x2="457.88" y2="412.75" stroke="#555555" stroke-width="0.45" marker-start="url(#as)" marker-end="url(#as)"/>
<text transform="translate(454.28,397.85) rotate(-90.0)" x="0" y="1.62" font-size="4.50" text-anchor="middle" fill="#262626">23</text>
<line x1="408.88" y1="412.75" x2="408.88" y2="418.25" stroke="#9a9a9a" stroke-width="0.35"/>
<line x1="452.88" y1="412.75" x2="452.88" y2="418.25" stroke="#9a9a9a" stroke-width="0.35"/>
<line x1="408.88" y1="416.65" x2="452.88" y2="416.65" stroke="#555555" stroke-width="0.45" marker-start="url(#as)" marker-end="url(#as)"/>
<text transform="translate(431.48,414.85) rotate(0.0)" x="0" y="1.62" font-size="4.50" text-anchor="middle" fill="#262626">36</text>
<text x="430.58" y="430.25" font-size="5.12" text-anchor="middle" fill="#4a4a55" textLength="33.60" lengthAdjust="spacingAndGlyphs">TOP 7, Form E</text>
<polygon points="472.16,390.75 524.36,390.75 524.36,412.45 472.16,412.45" fill="none" stroke="#8a8a8a" stroke-width="0.80" stroke-linejoin="round"/>
<line x1="472.16" y1="383.75" x2="472.16" y2="390.75" stroke="#9a9a9a" stroke-width="0.35"/>
<line x1="524.36" y1="383.75" x2="524.36" y2="390.75" stroke="#9a9a9a" stroke-width="0.35"/>
<line x1="472.16" y1="385.85" x2="524.36" y2="385.85" stroke="#555555" stroke-width="0.45" marker-start="url(#ar)" marker-end="url(#ar)"/>
<text transform="translate(498.56,382.55) rotate(0.0)" x="0" y="2.45" font-size="6.80" text-anchor="middle" fill="#222">30</text>
<line x1="525.36" y1="390.75" x2="535.66" y2="390.75" stroke="#9a9a9a" stroke-width="0.35"/>
<line x1="525.36" y1="412.45" x2="535.66" y2="412.45" stroke="#9a9a9a" stroke-width="0.35"/>
<line x1="533.16" y1="390.75" x2="533.16" y2="412.45" stroke="#555555" stroke-width="0.45" marker-start="url(#ar)" marker-end="url(#ar)"/>
<text transform="translate(529.96,401.35) rotate(-90.0)" x="0" y="2.45" font-size="6.80" text-anchor="middle" fill="#222">12</text>
<text x="503.16" y="430.25" font-size="5.12" text-anchor="middle" fill="#4a4a55" textLength="33.60" lengthAdjust="spacingAndGlyphs">TOP 8, Form A</text>
<polygon points="548.54,389.65 554.64,389.65 554.64,383.05 571.14,383.05 572.24,391.55 582.14,391.55 582.14,386.35 601.94,386.35 601.94,410.55 577.94,410.55 577.94,405.65 573.54,405.65 573.54,410.55 548.54,410.55" fill="none" stroke="#b4b4b4" stroke-width="0.80" stroke-linejoin="round"/>
<line x1="554.64" y1="380.75" x2="554.64" y2="383.05" stroke="#9a9a9a" stroke-width="0.35"/>
<line x1="571.14" y1="380.75" x2="571.14" y2="383.05" stroke="#9a9a9a" stroke-width="0.35"/>
<line x1="582.14" y1="380.75" x2="582.14" y2="386.35" stroke="#9a9a9a" stroke-width="0.35"/>
<line x1="601.94" y1="380.75" x2="601.94" y2="386.35" stroke="#9a9a9a" stroke-width="0.35"/>
<line x1="554.64" y1="382.35" x2="571.14" y2="382.35" stroke="#555555" stroke-width="0.45" marker-start="url(#as)" marker-end="url(#as)"/>
<text transform="translate(562.84,380.45) rotate(0.0)" x="0" y="1.62" font-size="4.50" text-anchor="middle" fill="#262626">15</text>
<line x1="582.14" y1="382.35" x2="601.94" y2="382.35" stroke="#555555" stroke-width="0.45" marker-start="url(#as)" marker-end="url(#as)"/>
<text transform="translate(592.04,380.45) rotate(0.0)" x="0" y="1.62" font-size="4.50" text-anchor="middle" fill="#262626">17</text>
<line x1="545.74" y1="389.65" x2="548.54" y2="389.65" stroke="#9a9a9a" stroke-width="0.35"/>
<line x1="545.74" y1="410.55" x2="548.54" y2="410.55" stroke="#9a9a9a" stroke-width="0.35"/>
<line x1="547.14" y1="389.65" x2="547.14" y2="410.55" stroke="#555555" stroke-width="0.45" marker-start="url(#as)" marker-end="url(#as)"/>
<text transform="translate(544.24,400.15) rotate(-90.0)" x="0" y="1.62" font-size="4.50" text-anchor="middle" fill="#262626">18</text>
<line x1="601.94" y1="386.35" x2="607.24" y2="386.35" stroke="#9a9a9a" stroke-width="0.35"/>
<line x1="601.94" y1="410.55" x2="607.24" y2="410.55" stroke="#9a9a9a" stroke-width="0.35"/>
<line x1="605.74" y1="386.35" x2="605.74" y2="410.55" stroke="#555555" stroke-width="0.45" marker-start="url(#as)" marker-end="url(#as)"/>
<text transform="translate(603.94,398.05) rotate(-90.0)" x="0" y="1.62" font-size="4.50" text-anchor="middle" fill="#262626">22</text>
<line x1="548.54" y1="410.55" x2="548.54" y2="415.75" stroke="#9a9a9a" stroke-width="0.35"/>
<line x1="573.54" y1="410.55" x2="573.54" y2="415.75" stroke="#9a9a9a" stroke-width="0.35"/>
<line x1="577.94" y1="410.55" x2="577.94" y2="415.75" stroke="#9a9a9a" stroke-width="0.35"/>
<line x1="601.94" y1="410.55" x2="601.94" y2="415.75" stroke="#9a9a9a" stroke-width="0.35"/>
<line x1="548.54" y1="414.45" x2="573.54" y2="414.45" stroke="#555555" stroke-width="0.45" marker-start="url(#as)" marker-end="url(#as)"/>
<text transform="translate(561.24,412.85) rotate(0.0)" x="0" y="1.62" font-size="4.50" text-anchor="middle" fill="#262626">21</text>
<text transform="translate(575.74,413.05) rotate(0.0)" x="0" y="1.62" font-size="4.50" text-anchor="middle" fill="#262626">4</text>
<line x1="577.94" y1="414.45" x2="601.94" y2="414.45" stroke="#555555" stroke-width="0.45" marker-start="url(#as)" marker-end="url(#as)"/>
<text transform="translate(590.04,412.85) rotate(0.0)" x="0" y="1.62" font-size="4.50" text-anchor="middle" fill="#262626">21</text>
<text x="575.74" y="430.25" font-size="5.12" text-anchor="middle" fill="#4a4a55" textLength="33.60" lengthAdjust="spacingAndGlyphs">TOP 9, Form F</text>
<polygon points="626.12,381.25 640.62,381.25 640.62,390.75 657.12,390.75 657.12,385.65 672.82,385.65 672.82,405.65 626.12,405.65" fill="none" stroke="#b4b4b4" stroke-width="0.80" stroke-linejoin="round"/>
<line x1="626.12" y1="377.75" x2="626.12" y2="381.25" stroke="#9a9a9a" stroke-width="0.35"/>
<line x1="640.62" y1="377.75" x2="640.62" y2="381.25" stroke="#9a9a9a" stroke-width="0.35"/>
<line x1="626.12" y1="379.25" x2="640.62" y2="379.25" stroke="#555555" stroke-width="0.45" marker-start="url(#as)" marker-end="url(#as)"/>
<text transform="translate(633.32,377.35) rotate(0.0)" x="0" y="1.62" font-size="4.50" text-anchor="middle" fill="#262626">12</text>
<line x1="657.12" y1="382.25" x2="657.12" y2="385.65" stroke="#9a9a9a" stroke-width="0.35"/>
<line x1="672.82" y1="382.25" x2="672.82" y2="385.65" stroke="#9a9a9a" stroke-width="0.35"/>
<line x1="657.12" y1="383.65" x2="672.82" y2="383.65" stroke="#555555" stroke-width="0.45" marker-start="url(#as)" marker-end="url(#as)"/>
<text transform="translate(664.62,381.75) rotate(0.0)" x="0" y="1.62" font-size="4.50" text-anchor="middle" fill="#262626">13</text>
<line x1="621.32" y1="381.25" x2="626.12" y2="381.25" stroke="#9a9a9a" stroke-width="0.35"/>
<line x1="621.32" y1="405.65" x2="626.12" y2="405.65" stroke="#9a9a9a" stroke-width="0.35"/>
<line x1="622.62" y1="381.25" x2="622.62" y2="405.65" stroke="#555555" stroke-width="0.45" marker-start="url(#as)" marker-end="url(#as)"/>
<text transform="translate(619.62,393.55) rotate(-90.0)" x="0" y="1.62" font-size="4.50" text-anchor="middle" fill="#262626">20</text>
<line x1="672.82" y1="385.65" x2="680.32" y2="385.65" stroke="#9a9a9a" stroke-width="0.35"/>
<line x1="672.82" y1="405.65" x2="680.32" y2="405.65" stroke="#9a9a9a" stroke-width="0.35"/>
<line x1="679.12" y1="385.65" x2="679.12" y2="405.65" stroke="#555555" stroke-width="0.45" marker-start="url(#as)" marker-end="url(#as)"/>
<text transform="translate(676.62,396.25) rotate(-90.0)" x="0" y="1.62" font-size="4.50" text-anchor="middle" fill="#262626">18</text>
<line x1="626.12" y1="405.65" x2="626.12" y2="411.75" stroke="#9a9a9a" stroke-width="0.35"/>
<line x1="672.82" y1="405.65" x2="672.82" y2="411.75" stroke="#9a9a9a" stroke-width="0.35"/>
<line x1="626.12" y1="410.55" x2="672.82" y2="410.55" stroke="#555555" stroke-width="0.45" marker-start="url(#as)" marker-end="url(#as)"/>
<text transform="translate(649.22,408.65) rotate(0.0)" x="0" y="1.62" font-size="4.50" text-anchor="middle" fill="#262626">38</text>
<text x="648.32" y="430.25" font-size="5.12" text-anchor="middle" fill="#4a4a55" textLength="36.18" lengthAdjust="spacingAndGlyphs">TOP 10, Form B</text>
<polygon points="329.30,470.10 339.00,470.10 339.00,478.60 343.40,483.00 384.90,483.00 384.90,495.10 341.00,495.10 329.30,483.70" fill="none" stroke="#b4b4b4" stroke-width="0.80" stroke-linejoin="round"/>
<line x1="329.30" y1="466.60" x2="329.30" y2="470.10" stroke="#9a9a9a" stroke-width="0.35"/>
<line x1="339.00" y1="466.60" x2="339.00" y2="470.10" stroke="#9a9a9a" stroke-width="0.35"/>
<line x1="329.30" y1="468.30" x2="339.00" y2="468.30" stroke="#555555" stroke-width="0.45" marker-start="url(#as)" marker-end="url(#as)"/>
<text transform="translate(334.40,466.40) rotate(0.0)" x="0" y="1.44" font-size="4.00" text-anchor="middle" fill="#262626">9</text>
<line x1="343.40" y1="479.10" x2="343.40" y2="483.00" stroke="#9a9a9a" stroke-width="0.35"/>
<line x1="384.90" y1="479.10" x2="384.90" y2="501.10" stroke="#9a9a9a" stroke-width="0.35"/>
<line x1="343.40" y1="480.60" x2="384.90" y2="480.60" stroke="#555555" stroke-width="0.45" marker-start="url(#as)" marker-end="url(#as)"/>
<text transform="translate(364.30,478.70) rotate(0.0)" x="0" y="1.44" font-size="4.00" text-anchor="middle" fill="#262626">39</text>
<line x1="384.90" y1="483.00" x2="391.20" y2="483.00" stroke="#9a9a9a" stroke-width="0.35"/>
<line x1="384.90" y1="495.10" x2="391.20" y2="495.10" stroke="#9a9a9a" stroke-width="0.35"/>
<line x1="390.10" y1="483.00" x2="390.10" y2="495.10" stroke="#555555" stroke-width="0.45" marker-start="url(#as)" marker-end="url(#as)"/>
<text transform="translate(387.70,488.90) rotate(-90.0)" x="0" y="1.44" font-size="4.00" text-anchor="middle" fill="#262626">11</text>
<line x1="341.00" y1="495.10" x2="341.00" y2="501.10" stroke="#9a9a9a" stroke-width="0.35"/>
<line x1="341.00" y1="499.80" x2="384.90" y2="499.80" stroke="#555555" stroke-width="0.45" marker-start="url(#as)" marker-end="url(#as)"/>
<text transform="translate(363.20,498.00) rotate(0.0)" x="0" y="1.44" font-size="4.00" text-anchor="middle" fill="#262626">41</text>
<line x1="325.20" y1="487.20" x2="336.80" y2="498.70" stroke="#555555" stroke-width="0.45" marker-start="url(#as)" marker-end="url(#as)"/>
<text transform="translate(332.00,491.70) rotate(45.0)" x="0" y="1.44" font-size="4.00" text-anchor="middle" fill="#262626">15</text>
<text x="357.90" y="515.10" font-size="5.12" text-anchor="middle" fill="#4a4a55" textLength="33.60" lengthAdjust="spacingAndGlyphs">TOP 1, Form B</text>
<polygon points="400.32,464.10 454.12,464.10 454.12,506.70 439.22,506.70 439.22,471.80 427.42,471.80 427.42,478.20 420.12,478.20 420.12,486.10 400.32,486.10" fill="none" stroke="#b4b4b4" stroke-width="0.80" stroke-linejoin="round"/>
<line x1="400.32" y1="456.90" x2="400.32" y2="464.10" stroke="#9a9a9a" stroke-width="0.35"/>
<line x1="454.12" y1="456.90" x2="454.12" y2="464.10" stroke="#9a9a9a" stroke-width="0.35"/>
<line x1="400.32" y1="458.40" x2="454.12" y2="458.40" stroke="#555555" stroke-width="0.45" marker-start="url(#as)" marker-end="url(#as)"/>
<text transform="translate(426.92,456.70) rotate(0.0)" x="0" y="1.37" font-size="3.80" text-anchor="middle" fill="#262626">49</text>
<line x1="454.12" y1="464.10" x2="462.92" y2="464.10" stroke="#9a9a9a" stroke-width="0.35"/>
<line x1="454.12" y1="506.70" x2="462.92" y2="506.70" stroke="#9a9a9a" stroke-width="0.35"/>
<line x1="461.52" y1="464.10" x2="461.52" y2="506.70" stroke="#555555" stroke-width="0.45" marker-start="url(#as)" marker-end="url(#as)"/>
<text transform="translate(459.22,485.00) rotate(-90.0)" x="0" y="1.37" font-size="3.80" text-anchor="middle" fill="#262626">36</text>
<line x1="435.42" y1="471.80" x2="439.22" y2="471.80" stroke="#9a9a9a" stroke-width="0.35"/>
<line x1="435.42" y1="506.70" x2="439.22" y2="506.70" stroke="#9a9a9a" stroke-width="0.35"/>
<line x1="436.62" y1="471.80" x2="436.62" y2="506.70" stroke="#555555" stroke-width="0.45" marker-start="url(#as)" marker-end="url(#as)"/>
<text transform="translate(434.32,489.40) rotate(-90.0)" x="0" y="1.37" font-size="3.80" text-anchor="middle" fill="#262626">25</text>
<line x1="427.42" y1="468.60" x2="427.42" y2="471.80" stroke="#9a9a9a" stroke-width="0.35"/>
<line x1="439.22" y1="468.60" x2="439.22" y2="471.80" stroke="#9a9a9a" stroke-width="0.35"/>
<line x1="427.42" y1="470.10" x2="439.22" y2="470.10" stroke="#555555" stroke-width="0.45" marker-start="url(#as)" marker-end="url(#as)"/>
<text transform="translate(433.12,468.40) rotate(0.0)" x="0" y="1.37" font-size="3.80" text-anchor="middle" fill="#262626">10</text>
<line x1="416.12" y1="475.10" x2="420.12" y2="475.10" stroke="#555555" stroke-width="0.45" marker-end="url(#as)"/>
<line x1="431.42" y1="475.10" x2="427.42" y2="475.10" stroke="#555555" stroke-width="0.45" marker-end="url(#as)"/>
<line x1="420.12" y1="475.10" x2="427.42" y2="475.10" stroke="#9a9a9a" stroke-width="0.35"/>
<text transform="translate(423.62,473.30) rotate(0.0)" x="0" y="1.37" font-size="3.80" text-anchor="middle" fill="#262626">6</text>
<line x1="400.32" y1="482.20" x2="420.12" y2="482.20" stroke="#555555" stroke-width="0.45" marker-start="url(#as)" marker-end="url(#as)"/>
<text transform="translate(410.42,480.20) rotate(0.0)" x="0" y="1.37" font-size="3.80" text-anchor="middle" fill="#262626">17</text>
<line x1="420.12" y1="486.10" x2="428.72" y2="486.10" stroke="#9a9a9a" stroke-width="0.35"/>
<line x1="427.42" y1="478.20" x2="427.42" y2="486.10" stroke="#555555" stroke-width="0.45" marker-start="url(#as)" marker-end="url(#as)"/>
<text transform="translate(425.02,482.20) rotate(-90.0)" x="0" y="1.37" font-size="3.80" text-anchor="middle" fill="#262626">7</text>
<text x="430.42" y="515.10" font-size="5.12" text-anchor="middle" fill="#4a4a55" textLength="33.60" lengthAdjust="spacingAndGlyphs">TOP 2, Form B</text>
<polygon points="475.44,476.40 481.24,476.40 481.24,470.10 498.14,470.10 499.24,478.20 508.74,478.20 508.74,472.70 528.94,472.70 528.94,497.10 504.34,497.10 504.34,491.60 500.34,491.60 500.34,497.10 475.44,497.10" fill="none" stroke="#b4b4b4" stroke-width="0.80" stroke-linejoin="round"/>
<line x1="481.24" y1="467.10" x2="481.24" y2="470.10" stroke="#9a9a9a" stroke-width="0.35"/>
<line x1="498.14" y1="467.10" x2="498.14" y2="470.10" stroke="#9a9a9a" stroke-width="0.35"/>
<line x1="508.74" y1="467.10" x2="508.74" y2="472.70" stroke="#9a9a9a" stroke-width="0.35"/>
<line x1="528.94" y1="467.10" x2="528.94" y2="472.70" stroke="#9a9a9a" stroke-width="0.35"/>
<line x1="481.24" y1="468.50" x2="498.14" y2="468.50" stroke="#555555" stroke-width="0.45" marker-start="url(#as)" marker-end="url(#as)"/>
<text transform="translate(489.54,466.60) rotate(0.0)" x="0" y="1.55" font-size="4.30" text-anchor="middle" fill="#262626">15</text>
<line x1="508.74" y1="468.50" x2="528.94" y2="468.50" stroke="#555555" stroke-width="0.45" marker-start="url(#as)" marker-end="url(#as)"/>
<text transform="translate(518.64,466.60) rotate(0.0)" x="0" y="1.55" font-size="4.30" text-anchor="middle" fill="#262626">17</text>
<line x1="472.74" y1="476.40" x2="475.44" y2="476.40" stroke="#9a9a9a" stroke-width="0.35"/>
<line x1="472.74" y1="497.10" x2="475.44" y2="497.10" stroke="#9a9a9a" stroke-width="0.35"/>
<line x1="474.14" y1="476.40" x2="474.14" y2="497.10" stroke="#555555" stroke-width="0.45" marker-start="url(#as)" marker-end="url(#as)"/>
<text transform="translate(471.34,486.10) rotate(-90.0)" x="0" y="1.55" font-size="4.30" text-anchor="middle" fill="#262626">18</text>
<line x1="528.94" y1="472.70" x2="533.94" y2="472.70" stroke="#9a9a9a" stroke-width="0.35"/>
<line x1="528.94" y1="497.10" x2="533.94" y2="497.10" stroke="#9a9a9a" stroke-width="0.35"/>
<line x1="532.44" y1="472.70" x2="532.44" y2="497.10" stroke="#555555" stroke-width="0.45" marker-start="url(#as)" marker-end="url(#as)"/>
<text transform="translate(530.44,484.40) rotate(-90.0)" x="0" y="1.55" font-size="4.30" text-anchor="middle" fill="#262626">22</text>
<line x1="475.44" y1="497.10" x2="475.44" y2="501.60" stroke="#9a9a9a" stroke-width="0.35"/>
<line x1="500.34" y1="497.10" x2="500.34" y2="501.60" stroke="#9a9a9a" stroke-width="0.35"/>
<line x1="504.34" y1="497.10" x2="504.34" y2="501.60" stroke="#9a9a9a" stroke-width="0.35"/>
<line x1="528.94" y1="497.10" x2="528.94" y2="501.60" stroke="#9a9a9a" stroke-width="0.35"/>
<line x1="475.44" y1="500.40" x2="500.34" y2="500.40" stroke="#555555" stroke-width="0.45" marker-start="url(#as)" marker-end="url(#as)"/>
<text transform="translate(487.84,498.40) rotate(0.0)" x="0" y="1.55" font-size="4.30" text-anchor="middle" fill="#262626">21</text>
<text transform="translate(502.24,498.40) rotate(0.0)" x="0" y="1.55" font-size="4.30" text-anchor="middle" fill="#262626">4</text>
<line x1="504.34" y1="500.40" x2="528.94" y2="500.40" stroke="#555555" stroke-width="0.45" marker-start="url(#as)" marker-end="url(#as)"/>
<text transform="translate(516.44,498.40) rotate(0.0)" x="0" y="1.55" font-size="4.30" text-anchor="middle" fill="#262626">21</text>
<text x="502.94" y="515.10" font-size="5.12" text-anchor="middle" fill="#4a4a55" textLength="33.60" lengthAdjust="spacingAndGlyphs">TOP 3, Form F</text>
<polygon points="546.46,478.20 590.66,478.20 590.66,496.50 546.46,496.50" fill="none" stroke="#8a8a8a" stroke-width="0.80" stroke-linejoin="round"/>
<line x1="546.46" y1="471.60" x2="546.46" y2="478.20" stroke="#9a9a9a" stroke-width="0.35"/>
<line x1="590.66" y1="471.60" x2="590.66" y2="478.20" stroke="#9a9a9a" stroke-width="0.35"/>
<line x1="546.46" y1="473.80" x2="590.66" y2="473.80" stroke="#555555" stroke-width="0.45" marker-start="url(#ar)" marker-end="url(#ar)"/>
<text transform="translate(568.46,470.70) rotate(0.0)" x="0" y="2.45" font-size="6.80" text-anchor="middle" fill="#222">24</text>
<line x1="591.66" y1="478.20" x2="600.46" y2="478.20" stroke="#9a9a9a" stroke-width="0.35"/>
<line x1="591.66" y1="496.50" x2="600.46" y2="496.50" stroke="#9a9a9a" stroke-width="0.35"/>
<line x1="598.36" y1="478.20" x2="598.36" y2="496.50" stroke="#555555" stroke-width="0.45" marker-start="url(#ar)" marker-end="url(#ar)"/>
<text transform="translate(595.16,487.20) rotate(-90.0)" x="0" y="2.45" font-size="6.80" text-anchor="middle" fill="#222">10</text>
<text x="575.46" y="515.10" font-size="5.12" text-anchor="middle" fill="#4a4a55" textLength="33.60" lengthAdjust="spacingAndGlyphs">TOP 4, Form A</text>
<polygon points="616.98,478.60 665.18,478.60 665.18,497.60 616.98,497.60" fill="none" stroke="#8a8a8a" stroke-width="0.80" stroke-linejoin="round"/>
<line x1="616.98" y1="471.10" x2="616.98" y2="478.60" stroke="#9a9a9a" stroke-width="0.35"/>
<line x1="665.18" y1="471.10" x2="665.18" y2="478.60" stroke="#9a9a9a" stroke-width="0.35"/>
<line x1="616.98" y1="473.40" x2="665.18" y2="473.40" stroke="#555555" stroke-width="0.45" marker-start="url(#ar)" marker-end="url(#ar)"/>
<text transform="translate(640.58,470.10) rotate(0.0)" x="0" y="2.45" font-size="6.80" text-anchor="middle" fill="#222">27</text>
<line x1="666.18" y1="478.60" x2="677.48" y2="478.60" stroke="#9a9a9a" stroke-width="0.35"/>
<line x1="666.18" y1="497.60" x2="677.48" y2="497.60" stroke="#9a9a9a" stroke-width="0.35"/>
<line x1="675.08" y1="478.60" x2="675.08" y2="497.60" stroke="#555555" stroke-width="0.45" marker-start="url(#ar)" marker-end="url(#ar)"/>
<text transform="translate(671.88,488.10) rotate(-90.0)" x="0" y="2.45" font-size="6.80" text-anchor="middle" fill="#222">11</text>
<text x="647.98" y="515.10" font-size="5.12" text-anchor="middle" fill="#4a4a55" textLength="33.60" lengthAdjust="spacingAndGlyphs">TOP 5, Form A</text>
<polygon points="335.10,543.00 361.00,543.00 361.00,529.10 370.70,529.10 370.70,542.30 382.40,554.70 386.00,559.10 384.60,561.30 365.40,561.30 364.30,558.00 335.10,558.00" fill="none" stroke="#b4b4b4" stroke-width="0.80" stroke-linejoin="round"/>
<line x1="335.10" y1="525.60" x2="335.10" y2="566.30" stroke="#9a9a9a" stroke-width="0.35"/>
<line x1="361.00" y1="525.60" x2="361.00" y2="529.10" stroke="#9a9a9a" stroke-width="0.35"/>
<line x1="370.70" y1="525.60" x2="370.70" y2="529.10" stroke="#9a9a9a" stroke-width="0.35"/>
<line x1="335.10" y1="527.20" x2="361.00" y2="527.20" stroke="#555555" stroke-width="0.45" marker-start="url(#as)" marker-end="url(#as)"/>
<line x1="361.00" y1="527.20" x2="370.70" y2="527.20" stroke="#555555" stroke-width="0.45" marker-start="url(#as)" marker-end="url(#as)"/>
<text transform="translate(348.10,525.10) rotate(0.0)" x="0" y="1.62" font-size="4.50" text-anchor="middle" fill="#262626">20</text>
<text transform="translate(365.40,524.80) rotate(0.0)" x="0" y="1.62" font-size="4.50" text-anchor="middle" fill="#262626">8</text>
<line x1="330.20" y1="543.00" x2="335.10" y2="543.00" stroke="#9a9a9a" stroke-width="0.35"/>
<line x1="330.20" y1="558.00" x2="335.10" y2="558.00" stroke="#9a9a9a" stroke-width="0.35"/>
<line x1="331.80" y1="543.00" x2="331.80" y2="558.00" stroke="#555555" stroke-width="0.45" marker-start="url(#as)" marker-end="url(#as)"/>
<text transform="translate(328.40,550.60) rotate(-90.0)" x="0" y="1.62" font-size="4.50" text-anchor="middle" fill="#262626">12</text>
<line x1="374.70" y1="541.50" x2="385.20" y2="552.50" stroke="#555555" stroke-width="0.45" marker-start="url(#as)" marker-end="url(#as)"/>
<text transform="translate(381.00,546.20) rotate(50.0)" x="0" y="1.62" font-size="4.50" text-anchor="middle" fill="#262626">13</text>
<line x1="364.30" y1="558.00" x2="364.30" y2="566.30" stroke="#9a9a9a" stroke-width="0.35"/>
<line x1="365.40" y1="561.30" x2="365.40" y2="566.30" stroke="#9a9a9a" stroke-width="0.35"/>
<line x1="384.60" y1="561.30" x2="384.60" y2="566.30" stroke="#9a9a9a" stroke-width="0.35"/>
<line x1="335.10" y1="565.00" x2="364.30" y2="565.00" stroke="#555555" stroke-width="0.45" marker-start="url(#as)" marker-end="url(#as)"/>
<line x1="365.40" y1="565.00" x2="384.60" y2="565.00" stroke="#555555" stroke-width="0.45" marker-start="url(#as)" marker-end="url(#as)"/>
<text transform="translate(349.40,563.10) rotate(0.0)" x="0" y="1.62" font-size="4.50" text-anchor="middle" fill="#262626">22</text>
<text transform="translate(374.70,563.40) rotate(0.0)" x="0" y="1.62" font-size="4.50" text-anchor="middle" fill="#262626">14</text>
<text x="357.90" y="578.80" font-size="5.12" text-anchor="middle" fill="#4a4a55" textLength="33.60" lengthAdjust="spacingAndGlyphs">TOP 6, Form F</text>
<polygon points="400.52,540.40 423.42,537.10 451.12,537.10 451.12,559.50 423.42,559.50 400.52,563.20" fill="none" stroke="#b4b4b4" stroke-width="0.80" stroke-linejoin="round"/>
<line x1="399.42" y1="534.30" x2="400.52" y2="540.40" stroke="#9a9a9a" stroke-width="0.35"/>
<line x1="423.42" y1="530.80" x2="423.42" y2="537.10" stroke="#9a9a9a" stroke-width="0.35"/>
<line x1="451.12" y1="530.80" x2="451.12" y2="537.10" stroke="#9a9a9a" stroke-width="0.35"/>
<line x1="399.42" y1="536.40" x2="422.72" y2="532.70" stroke="#555555" stroke-width="0.45" marker-start="url(#as)" marker-end="url(#as)"/>
<text transform="translate(410.92,532.40) rotate(-8.0)" x="0" y="1.44" font-size="4.00" text-anchor="middle" fill="#262626">21</text>
<line x1="423.42" y1="532.70" x2="451.12" y2="532.70" stroke="#555555" stroke-width="0.45" marker-start="url(#as)" marker-end="url(#as)"/>
<text transform="translate(436.82,530.90) rotate(0.0)" x="0" y="1.44" font-size="4.00" text-anchor="middle" fill="#262626">25</text>
<line x1="451.12" y1="537.10" x2="459.92" y2="537.10" stroke="#9a9a9a" stroke-width="0.35"/>
<line x1="451.12" y1="559.50" x2="459.92" y2="559.50" stroke="#9a9a9a" stroke-width="0.35"/>
<line x1="458.52" y1="537.10" x2="458.52" y2="559.50" stroke="#555555" stroke-width="0.45" marker-start="url(#as)" marker-end="url(#as)"/>
<text transform="translate(455.92,548.70) rotate(-90.0)" x="0" y="1.44" font-size="4.00" text-anchor="middle" fill="#262626">30</text>
<text x="430.42" y="578.80" font-size="5.12" text-anchor="middle" fill="#4a4a55" textLength="33.60" lengthAdjust="spacingAndGlyphs">TOP 7, Form B</text>
<polygon points="470.84,539.00 523.64,539.00 523.64,560.20 470.84,560.20" fill="none" stroke="#8a8a8a" stroke-width="0.80" stroke-linejoin="round"/>
<line x1="470.84" y1="531.80" x2="470.84" y2="539.00" stroke="#9a9a9a" stroke-width="0.35"/>
<line x1="523.64" y1="531.80" x2="523.64" y2="539.00" stroke="#9a9a9a" stroke-width="0.35"/>
<line x1="470.84" y1="533.80" x2="523.64" y2="533.80" stroke="#555555" stroke-width="0.45" marker-start="url(#ar)" marker-end="url(#ar)"/>
<text transform="translate(497.24,530.90) rotate(0.0)" x="0" y="2.45" font-size="6.80" text-anchor="middle" fill="#222">30</text>
<line x1="524.64" y1="539.00" x2="533.94" y2="539.00" stroke="#9a9a9a" stroke-width="0.35"/>
<line x1="524.64" y1="560.20" x2="533.94" y2="560.20" stroke="#9a9a9a" stroke-width="0.35"/>
<line x1="532.24" y1="539.00" x2="532.24" y2="560.20" stroke="#555555" stroke-width="0.45" marker-start="url(#ar)" marker-end="url(#ar)"/>
<text transform="translate(528.94,549.40) rotate(-90.0)" x="0" y="2.45" font-size="6.80" text-anchor="middle" fill="#222">12</text>
<text x="502.94" y="578.80" font-size="5.12" text-anchor="middle" fill="#4a4a55" textLength="33.60" lengthAdjust="spacingAndGlyphs">TOP 8, Form A</text>
<polygon points="542.26,543.20 604.96,543.20 604.96,555.10 542.26,555.10" fill="none" stroke="#c4c4c4" stroke-width="0.60" stroke-linejoin="round"/>
<line x1="542.26" y1="541.90" x2="604.96" y2="541.90" stroke="#555555" stroke-width="0.45" marker-start="url(#as)" marker-end="url(#as)"/>
<text transform="translate(573.56,540.80) rotate(0.0)" x="0" y="0.79" font-size="2.20" text-anchor="middle" fill="#262626">66</text>
<line x1="607.36" y1="543.20" x2="607.36" y2="555.10" stroke="#555555" stroke-width="0.45" marker-start="url(#as)" marker-end="url(#as)"/>
<text transform="translate(606.16,549.10) rotate(-90.0)" x="0" y="0.79" font-size="2.20" text-anchor="middle" fill="#262626">12</text>
<text x="575.46" y="578.80" font-size="5.12" text-anchor="middle" fill="#4a4a55" textLength="33.60" lengthAdjust="spacingAndGlyphs">TOP 9, Form A</text>
<path transform="translate(611.48,516.80)" d="M11.2,12.3 L56.1,12.3 Q60,12.6 61,14.8 L15.4,41.6 L11.2,38.7 Z" fill="none" stroke="#b4b4b4" stroke-width="0.80"/>
<line x1="622.68" y1="524.80" x2="622.68" y2="529.10" stroke="#9a9a9a" stroke-width="0.35"/>
<line x1="667.58" y1="524.80" x2="667.58" y2="529.10" stroke="#9a9a9a" stroke-width="0.35"/>
<line x1="622.68" y1="526.10" x2="667.58" y2="526.10" stroke="#555555" stroke-width="0.45" marker-start="url(#as)" marker-end="url(#as)"/>
<text transform="translate(644.48,524.50) rotate(0.0)" x="0" y="1.30" font-size="3.60" text-anchor="middle" fill="#262626">44</text>
<line x1="619.48" y1="529.10" x2="622.68" y2="529.10" stroke="#9a9a9a" stroke-width="0.35"/>
<line x1="620.78" y1="529.10" x2="620.78" y2="555.00" stroke="#555555" stroke-width="0.45" marker-start="url(#as)" marker-end="url(#as)"/>
<text transform="translate(618.28,543.20) rotate(-90.0)" x="0" y="1.30" font-size="3.60" text-anchor="middle" fill="#262626">25</text>
<line x1="630.68" y1="562.40" x2="676.88" y2="538.80" stroke="#555555" stroke-width="0.45" marker-start="url(#as)" marker-end="url(#as)"/>
<text transform="translate(652.18,549.20) rotate(-27.0)" x="0" y="1.30" font-size="3.60" text-anchor="middle" fill="#262626">52</text>
<line x1="626.88" y1="558.40" x2="629.48" y2="562.80" stroke="#9a9a9a" stroke-width="0.35"/>
<line x1="672.48" y1="531.60" x2="677.48" y2="539.30" stroke="#9a9a9a" stroke-width="0.35"/>
<path transform="translate(611.48,516.80)" d="M60,15.5 L51.5,20.5" fill="none" stroke="#555555" stroke-width="0.40"/>
<text transform="translate(665.38,536.00) rotate(-30.0)" x="0" y="1.22" font-size="3.40" text-anchor="middle" fill="#262626">R5</text>
<path transform="translate(611.48,516.80)" d="M8.3,46 L14.8,39.8" fill="none" stroke="#555555" stroke-width="0.40"/>
<text transform="translate(618.78,564.40) rotate(-50.0)" x="0" y="1.22" font-size="3.40" text-anchor="middle" fill="#262626">R5</text>
<text x="647.98" y="578.80" font-size="5.12" text-anchor="middle" fill="#4a4a55" textLength="36.18" lengthAdjust="spacingAndGlyphs">TOP 10, Form D</text>
</svg>
</body></html>
